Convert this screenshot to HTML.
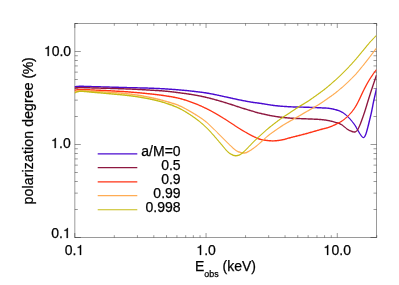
<!DOCTYPE html>
<html><head><meta charset="utf-8"><style>
html,body{margin:0;padding:0;background:#fff}
body{width:399px;height:285px;position:relative;overflow:hidden;font-family:"Liberation Sans",sans-serif;color:#000}
.t{position:absolute;white-space:nowrap;font-size:14px;line-height:1;-webkit-text-stroke:0.25px #000}
.r{text-align:right}
</style></head><body><div id="w" style="position:absolute;left:0;top:0;width:399px;height:285px;will-change:transform">
<svg width="399" height="285" viewBox="0 0 399 285" style="position:absolute;left:0;top:0"><path d="M74.82 23.3V237.7M376.5 23.3V237.7M74.61999999999999 23.5H376.7M74.61999999999999 237.5H376.7" fill="none" stroke="#000" stroke-width="0.4"/><path d="M74.80 237.5v-4.5M74.80 23.5v4.5M74.82 237.50h6.0M376.5 237.50h-6.0M114.31 237.5v-2.3M114.31 23.5v2.3M74.82 209.50h3.0M376.5 209.50h-3.0M137.42 237.5v-2.3M137.42 23.5v2.3M74.82 193.13h3.0M376.5 193.13h-3.0M153.82 237.5v-2.3M153.82 23.5v2.3M74.82 181.51h3.0M376.5 181.51h-3.0M166.54 237.5v-2.3M166.54 23.5v2.3M74.82 172.50h3.0M376.5 172.50h-3.0M176.93 237.5v-2.3M176.93 23.5v2.3M74.82 165.13h3.0M376.5 165.13h-3.0M185.71 237.5v-2.3M185.71 23.5v2.3M74.82 158.91h3.0M376.5 158.91h-3.0M193.33 237.5v-2.3M193.33 23.5v2.3M74.82 153.51h3.0M376.5 153.51h-3.0M200.04 237.5v-2.3M200.04 23.5v2.3M74.82 148.76h3.0M376.5 148.76h-3.0M206.05 237.5v-4.5M206.05 23.5v4.5M74.82 144.50h6.0M376.5 144.50h-6.0M245.55 237.5v-2.3M245.55 23.5v2.3M74.82 116.50h3.0M376.5 116.50h-3.0M268.66 237.5v-2.3M268.66 23.5v2.3M74.82 100.13h3.0M376.5 100.13h-3.0M285.06 237.5v-2.3M285.06 23.5v2.3M74.82 88.51h3.0M376.5 88.51h-3.0M297.78 237.5v-2.3M297.78 23.5v2.3M74.82 79.50h3.0M376.5 79.50h-3.0M308.17 237.5v-2.3M308.17 23.5v2.3M74.82 72.13h3.0M376.5 72.13h-3.0M316.96 237.5v-2.3M316.96 23.5v2.3M74.82 65.91h3.0M376.5 65.91h-3.0M324.57 237.5v-2.3M324.57 23.5v2.3M74.82 60.51h3.0M376.5 60.51h-3.0M331.28 237.5v-2.3M331.28 23.5v2.3M74.82 55.76h3.0M376.5 55.76h-3.0M337.29 237.5v-4.5M337.29 23.5v4.5M74.82 51.50h6.0M376.5 51.50h-6.0M376.80 237.5v-2.3M376.80 23.5v2.3M74.82 23.50h3.0M376.5 23.50h-3.0" stroke="#000" stroke-width="0.4" fill="none"/><clipPath id="c"><rect x="74.5" y="23.5" width="302.0" height="214.0"/></clipPath><g clip-path="url(#c)" fill="none" stroke-linejoin="round"><path d="M74.58 87.52L74.99 87.47L75.46 87.40L76.00 87.32L76.62 87.24L77.36 87.16L78.22 87.10L79.23 87.05L80.41 87.02L80.93 87.02L81.50 87.03L82.10 87.04L82.74 87.05L83.41 87.06L84.11 87.08L84.83 87.10L85.57 87.12L86.33 87.14L87.11 87.17L87.89 87.19L88.69 87.22L89.49 87.25L90.29 87.28L91.09 87.30L91.89 87.33L92.68 87.36L93.46 87.38L94.23 87.40L94.98 87.42L95.68 87.44L96.37 87.46L97.05 87.48L97.72 87.50L98.40 87.52L99.06 87.53L99.73 87.55L100.40 87.57L101.07 87.59L101.74 87.60L102.42 87.62L103.11 87.64L103.81 87.66L104.52 87.68L105.25 87.70L105.99 87.72L106.74 87.74L107.52 87.76L108.32 87.78L109.14 87.80L109.98 87.82L110.61 87.84L111.25 87.86L111.91 87.88L112.58 87.90L113.27 87.92L113.97 87.94L114.68 87.96L115.39 87.98L116.12 88.00L116.85 88.02L117.60 88.04L118.34 88.06L119.09 88.09L119.85 88.11L120.61 88.13L121.37 88.15L122.13 88.17L122.89 88.20L123.65 88.22L124.41 88.24L125.17 88.26L125.92 88.28L126.66 88.30L127.40 88.33L128.14 88.35L128.86 88.37L129.58 88.39L130.28 88.41L130.98 88.42L131.75 88.44L132.52 88.46L133.29 88.48L134.06 88.50L134.82 88.52L135.59 88.54L136.35 88.56L137.11 88.57L137.87 88.59L138.62 88.61L139.37 88.62L140.12 88.64L140.86 88.66L141.60 88.67L142.33 88.69L143.06 88.71L143.78 88.73L144.50 88.74L145.21 88.76L145.91 88.78L146.61 88.80L147.30 88.82L147.98 88.84L148.65 88.86L149.32 88.88L149.97 88.90L150.77 88.93L151.56 88.96L152.32 88.99L153.08 89.02L153.81 89.05L154.54 89.08L155.26 89.11L155.97 89.14L156.66 89.17L157.36 89.20L158.05 89.24L158.73 89.27L159.41 89.30L160.10 89.34L160.78 89.37L161.46 89.41L162.15 89.45L162.84 89.49L163.54 89.53L164.24 89.57L164.96 89.61L165.68 89.66L166.40 89.70L167.12 89.75L167.84 89.79L168.56 89.84L169.29 89.89L170.01 89.94L170.73 89.99L171.46 90.04L172.18 90.09L172.91 90.14L173.64 90.20L174.36 90.25L175.09 90.31L175.81 90.36L176.53 90.42L177.26 90.48L177.98 90.54L178.70 90.60L179.42 90.66L180.14 90.72L180.86 90.78L181.57 90.84L182.29 90.91L183.01 90.97L183.72 91.04L184.44 91.10L185.16 91.17L185.87 91.23L186.58 91.30L187.30 91.37L188.01 91.44L188.72 91.51L189.44 91.58L190.15 91.66L190.86 91.73L191.57 91.81L192.28 91.89L192.99 91.97L193.70 92.05L194.41 92.13L195.11 92.21L195.85 92.30L196.59 92.39L197.32 92.48L198.04 92.57L198.76 92.66L199.48 92.75L200.20 92.84L200.91 92.93L201.63 93.03L202.35 93.12L203.07 93.22L203.79 93.33L204.52 93.43L205.26 93.54L206.00 93.66L206.76 93.77L207.52 93.90L208.29 94.03L209.08 94.16L209.87 94.30L210.55 94.43L211.25 94.56L211.96 94.69L212.68 94.83L213.41 94.98L214.16 95.13L214.91 95.29L215.67 95.45L216.44 95.61L217.20 95.77L217.97 95.94L218.74 96.10L219.51 96.27L220.27 96.44L221.03 96.61L221.78 96.77L222.53 96.94L223.26 97.10L223.98 97.26L224.69 97.41L225.38 97.57L226.06 97.71L226.71 97.86L227.35 97.99L228.17 98.17L228.96 98.34L229.72 98.50L230.46 98.67L231.18 98.82L231.88 98.98L232.57 99.13L233.25 99.28L233.91 99.43L234.57 99.57L235.22 99.72L235.87 99.86L236.52 100.00L237.17 100.14L237.83 100.28L238.49 100.42L239.17 100.56L239.86 100.70L240.61 100.85L241.36 101.00L242.13 101.15L242.91 101.30L243.70 101.45L244.48 101.59L245.27 101.74L246.05 101.89L246.82 102.03L247.58 102.17L248.33 102.30L249.07 102.43L249.78 102.56L250.47 102.68L251.14 102.80L251.78 102.90L252.38 103.01L253.23 103.14L253.96 103.25L254.61 103.34L255.19 103.42L255.74 103.48L256.28 103.55L256.84 103.61L257.45 103.68L258.15 103.77L258.95 103.88L259.90 104.01L260.45 104.09L261.03 104.18L261.65 104.28L262.29 104.38L262.95 104.49L263.64 104.60L264.35 104.72L265.08 104.84L265.82 104.96L266.58 105.08L267.34 105.21L268.12 105.33L268.90 105.45L269.68 105.57L270.46 105.69L271.24 105.81L272.01 105.92L272.78 106.03L273.54 106.13L274.28 106.23L275.02 106.32L275.74 106.40L276.46 106.48L277.18 106.55L277.91 106.63L278.63 106.70L279.35 106.77L280.07 106.83L280.80 106.89L281.52 106.95L282.24 107.01L282.96 107.07L283.68 107.12L284.40 107.17L285.13 107.22L285.85 107.27L286.57 107.32L287.29 107.36L288.01 107.40L288.72 107.44L289.44 107.48L290.16 107.52L290.88 107.56L291.60 107.59L292.32 107.62L293.04 107.65L293.76 107.67L294.48 107.69L295.20 107.71L295.91 107.73L296.63 107.74L297.35 107.76L298.06 107.77L298.78 107.78L299.49 107.79L300.21 107.81L300.92 107.82L301.63 107.83L302.34 107.85L303.05 107.86L303.76 107.88L304.47 107.90L305.18 107.92L305.93 107.95L306.68 107.98L307.45 108.00L308.22 108.03L309.00 108.06L309.78 108.09L310.56 108.12L311.34 108.14L312.11 108.17L312.88 108.21L313.65 108.24L314.41 108.27L315.15 108.30L315.89 108.33L316.61 108.36L317.32 108.39L318.01 108.43L318.68 108.46L319.33 108.49L319.96 108.52L320.83 108.57L321.65 108.60L322.43 108.63L323.18 108.66L323.90 108.68L324.59 108.71L325.26 108.74L325.92 108.78L326.57 108.82L327.22 108.87L327.87 108.93L328.52 109.01L329.19 109.10L329.88 109.21L330.59 109.33L331.32 109.46L332.05 109.61L332.79 109.76L333.54 109.92L334.28 110.10L335.01 110.28L335.74 110.47L336.45 110.67L337.15 110.88L337.83 111.10L338.49 111.33L339.13 111.57L339.73 111.81L340.41 112.11L341.05 112.41L341.66 112.71L342.24 113.03L342.80 113.36L343.35 113.71L343.89 114.08L344.43 114.47L344.97 114.88L345.51 115.32L346.07 115.79L346.64 116.30L347.11 116.72L347.59 117.17L348.07 117.67L348.56 118.18L349.04 118.72L349.53 119.27L350.02 119.83L350.50 120.40L350.97 120.97L351.44 121.54L351.89 122.11L352.33 122.66L352.75 123.21L353.16 123.74L353.53 124.25L354.00 124.92L354.45 125.60L354.86 126.27L355.25 126.94L355.63 127.60L355.99 128.25L356.34 128.89L356.67 129.50L357.01 130.10L357.34 130.68L357.67 131.22L358.08 131.92L358.47 132.57L358.83 133.19L359.18 133.77L359.52 134.32L359.85 134.83L360.20 135.31L360.54 135.75L361.06 136.42L361.59 137.04L362.12 137.59L362.67 138.10L363.44 138.32L364.16 137.99L364.65 137.45L365.19 136.88L365.66 136.15L366.10 135.28L366.33 134.76L366.55 134.20L366.76 133.60L366.97 132.96L367.17 132.28L367.38 131.58L367.58 130.87L367.78 130.14L367.98 129.41L368.17 128.68L368.36 128.01L368.54 127.32L368.73 126.61L368.91 125.89L369.09 125.16L369.27 124.42L369.46 123.68L369.64 122.92L369.82 122.17L370.00 121.42L370.18 120.67L370.35 119.98L370.52 119.31L370.68 118.64L370.84 117.96L371.01 117.29L371.17 116.60L371.34 115.91L371.51 115.20L371.67 114.47L371.85 113.72L372.02 112.95L372.19 112.15L372.34 111.48L372.48 110.77L372.63 110.04L372.79 109.28L372.94 108.51L373.09 107.72L373.25 106.94L373.40 106.15L373.55 105.37L373.70 104.60L373.85 103.85L373.99 103.12L374.13 102.43L374.27 101.77L374.39 101.15L374.58 100.28L374.76 99.47L374.93 98.72L375.09 98.00L375.25 97.32L375.40 96.66L375.55 96.03L375.70 95.40L375.85 94.78L375.99 94.15L376.17 93.36L376.35 92.54L376.52 91.74L376.69 90.96L376.85 90.24L376.99 89.60L377.10 89.06L377.19 88.65L375.81 88.35L375.72 88.76L375.60 89.30L375.46 89.94L375.31 90.66L375.14 91.44L374.96 92.24L374.79 93.05L374.61 93.85L374.47 94.46L374.33 95.08L374.18 95.70L374.03 96.34L373.88 96.99L373.71 97.68L373.55 98.40L373.37 99.17L373.19 99.98L373.01 100.85L372.87 101.48L372.74 102.14L372.60 102.85L372.45 103.57L372.31 104.33L372.16 105.10L372.00 105.88L371.85 106.66L371.70 107.45L371.54 108.23L371.39 109.00L371.24 109.76L371.09 110.48L370.95 111.19L370.81 111.85L370.63 112.65L370.46 113.41L370.30 114.15L370.13 114.88L369.97 115.58L369.80 116.27L369.64 116.95L369.47 117.63L369.31 118.30L369.15 118.97L368.98 119.65L368.82 120.33L368.63 121.09L368.45 121.84L368.27 122.59L368.09 123.34L367.91 124.09L367.73 124.82L367.55 125.55L367.37 126.27L367.19 126.97L367.01 127.65L366.83 128.32L366.63 129.04L366.43 129.77L366.23 130.50L366.03 131.21L365.84 131.89L365.64 132.55L365.45 133.17L365.26 133.74L365.08 134.27L364.90 134.72L364.52 135.55L364.18 136.22L363.88 136.73L363.52 136.91L363.36 136.88L363.22 136.91L362.84 136.77L362.41 136.32L361.96 135.71L361.46 135.05L361.16 134.62L360.87 134.16L360.56 133.67L360.25 133.13L359.91 132.55L359.55 131.94L359.15 131.28L358.73 130.58L358.42 130.05L358.11 129.48L357.79 128.89L357.45 128.28L357.10 127.64L356.72 126.98L356.33 126.31L355.91 125.62L355.46 124.94L354.98 124.24L354.47 123.55L354.07 123.04L353.66 122.51L353.23 121.96L352.77 121.40L352.31 120.83L351.83 120.26L351.34 119.68L350.84 119.11L350.34 118.55L349.83 118.00L349.32 117.46L348.82 116.94L348.32 116.44L347.83 115.96L347.36 115.50L346.79 114.98L346.23 114.48L345.68 114.01L345.13 113.56L344.58 113.13L344.03 112.73L343.46 112.33L342.87 111.96L342.27 111.60L341.63 111.25L340.97 110.92L340.27 110.59L339.63 110.32L338.96 110.05L338.28 109.80L337.57 109.57L336.85 109.34L336.11 109.12L335.36 108.92L334.61 108.73L333.85 108.55L333.09 108.37L332.34 108.21L331.59 108.06L330.85 107.92L330.12 107.79L329.40 107.68L328.70 107.58L328.02 107.50L327.35 107.43L326.68 107.38L326.01 107.33L325.34 107.30L324.65 107.26L323.95 107.24L323.23 107.21L322.49 107.18L321.71 107.15L320.90 107.12L320.04 107.08L319.41 107.04L318.75 107.01L318.08 106.98L317.38 106.95L316.67 106.91L315.95 106.88L315.21 106.85L314.47 106.82L313.71 106.79L312.94 106.76L312.17 106.73L311.39 106.70L310.61 106.67L309.83 106.64L309.05 106.61L308.28 106.58L307.50 106.55L306.73 106.53L305.97 106.50L305.22 106.48L304.51 106.45L303.80 106.43L303.09 106.41L302.37 106.40L301.66 106.38L300.95 106.37L300.23 106.36L299.52 106.34L298.80 106.33L298.09 106.32L297.37 106.31L296.66 106.29L295.95 106.28L295.23 106.26L294.52 106.24L293.80 106.22L293.09 106.20L292.38 106.17L291.66 106.14L290.95 106.11L290.24 106.08L289.52 106.04L288.81 106.00L288.09 105.96L287.37 105.92L286.66 105.87L285.94 105.83L285.22 105.78L284.51 105.73L283.79 105.68L283.07 105.63L282.35 105.57L281.64 105.51L280.92 105.45L280.20 105.39L279.48 105.33L278.77 105.26L278.05 105.19L277.33 105.12L276.62 105.04L275.90 104.97L275.18 104.88L274.46 104.80L273.72 104.71L272.97 104.61L272.21 104.50L271.44 104.39L270.67 104.28L269.89 104.16L269.12 104.04L268.34 103.92L267.57 103.79L266.81 103.67L266.06 103.55L265.31 103.42L264.59 103.31L263.88 103.19L263.19 103.08L262.52 102.97L261.87 102.86L261.25 102.77L260.66 102.67L260.10 102.59L259.15 102.45L258.33 102.34L257.63 102.25L257.01 102.18L256.44 102.12L255.90 102.05L255.36 101.99L254.80 101.92L254.17 101.83L253.45 101.73L252.62 101.59L252.01 101.49L251.38 101.39L250.72 101.27L250.03 101.15L249.31 101.03L248.58 100.90L247.84 100.76L247.08 100.63L246.30 100.48L245.53 100.34L244.75 100.19L243.96 100.05L243.18 99.90L242.41 99.75L241.64 99.60L240.88 99.45L240.14 99.30L239.45 99.17L238.78 99.03L238.12 98.89L237.47 98.75L236.82 98.61L236.17 98.47L235.52 98.33L234.87 98.19L234.22 98.05L233.55 97.90L232.88 97.75L232.19 97.60L231.49 97.44L230.77 97.28L230.02 97.12L229.26 96.95L228.47 96.78L227.65 96.61L227.01 96.47L226.36 96.33L225.68 96.18L224.99 96.03L224.29 95.88L223.57 95.72L222.83 95.55L222.09 95.39L221.34 95.22L220.58 95.06L219.81 94.89L219.04 94.72L218.27 94.55L217.50 94.39L216.73 94.22L215.96 94.06L215.20 93.90L214.45 93.74L213.70 93.59L212.96 93.44L212.23 93.29L211.51 93.16L210.81 93.02L210.13 92.90L209.32 92.75L208.53 92.62L207.75 92.49L206.98 92.36L206.23 92.24L205.48 92.12L204.73 92.01L204.00 91.91L203.27 91.80L202.54 91.70L201.82 91.60L201.10 91.51L200.38 91.41L199.66 91.32L198.94 91.23L198.22 91.14L197.49 91.05L196.76 90.96L196.03 90.88L195.29 90.79L194.57 90.70L193.86 90.62L193.15 90.54L192.44 90.45L191.72 90.38L191.01 90.30L190.30 90.22L189.58 90.15L188.87 90.08L188.15 90.01L187.44 89.93L186.72 89.87L186.01 89.80L185.29 89.73L184.57 89.66L183.85 89.60L183.14 89.53L182.42 89.47L181.70 89.41L180.98 89.34L180.26 89.28L179.54 89.22L178.82 89.16L178.10 89.10L177.37 89.04L176.65 88.98L175.92 88.92L175.20 88.87L174.47 88.81L173.74 88.76L173.02 88.70L172.29 88.65L171.56 88.60L170.84 88.54L170.11 88.49L169.38 88.44L168.66 88.40L167.93 88.35L167.21 88.30L166.49 88.26L165.76 88.21L165.04 88.17L164.33 88.12L163.62 88.08L162.92 88.04L162.23 88.00L161.54 87.97L160.85 87.93L160.17 87.89L159.49 87.86L158.80 87.82L158.12 87.79L157.43 87.76L156.73 87.72L156.03 87.69L155.32 87.66L154.60 87.63L153.87 87.60L153.13 87.57L152.38 87.54L151.61 87.51L150.83 87.48L150.03 87.46L149.37 87.43L148.70 87.41L148.02 87.39L147.34 87.37L146.65 87.35L145.95 87.33L145.24 87.31L144.53 87.29L143.82 87.28L143.09 87.26L142.36 87.24L141.63 87.23L140.89 87.21L140.15 87.19L139.40 87.18L138.65 87.16L137.90 87.14L137.14 87.12L136.38 87.11L135.62 87.09L134.86 87.07L134.09 87.05L133.32 87.03L132.56 87.02L131.79 87.00L131.02 86.98L130.32 86.96L129.62 86.94L128.90 86.92L128.18 86.90L127.44 86.88L126.70 86.86L125.96 86.83L125.21 86.81L124.45 86.79L123.69 86.77L122.93 86.75L122.17 86.73L121.41 86.70L120.65 86.68L119.89 86.66L119.14 86.64L118.38 86.62L117.64 86.59L116.90 86.57L116.16 86.55L115.44 86.53L114.72 86.51L114.01 86.49L113.31 86.47L112.63 86.45L111.95 86.43L111.29 86.41L110.65 86.39L110.02 86.38L109.18 86.35L108.36 86.33L107.56 86.31L106.78 86.29L106.02 86.27L105.28 86.25L104.56 86.23L103.85 86.21L103.15 86.19L102.46 86.17L101.78 86.15L101.10 86.14L100.43 86.12L99.77 86.10L99.10 86.08L98.43 86.07L97.76 86.05L97.09 86.03L96.41 86.01L95.72 85.99L95.02 85.98L94.27 85.95L93.51 85.93L92.73 85.91L91.94 85.88L91.14 85.85L90.34 85.83L89.54 85.80L88.74 85.77L87.94 85.75L87.15 85.72L86.38 85.69L85.62 85.67L84.87 85.65L84.15 85.63L83.45 85.61L82.77 85.60L82.13 85.59L81.51 85.58L80.94 85.57L80.39 85.58L79.18 85.60L78.13 85.65L77.22 85.72L76.45 85.81L75.80 85.90L75.25 85.98L74.80 86.04L74.42 86.08Z" fill="#4a0ad0" stroke="none"/><path d="M74.58 88.82L74.99 88.77L75.46 88.70L76.00 88.62L76.62 88.54L77.36 88.46L78.22 88.40L79.23 88.35L80.41 88.32L80.93 88.32L81.50 88.33L82.10 88.34L82.74 88.35L83.41 88.36L84.11 88.38L84.83 88.40L85.57 88.42L86.33 88.44L87.11 88.47L87.89 88.49L88.69 88.52L89.49 88.55L90.29 88.58L91.09 88.60L91.89 88.63L92.68 88.66L93.46 88.68L94.23 88.70L94.98 88.72L95.68 88.74L96.37 88.76L97.05 88.78L97.73 88.80L98.40 88.81L99.06 88.83L99.73 88.85L100.40 88.86L101.07 88.88L101.74 88.90L102.42 88.91L103.11 88.93L103.81 88.95L104.52 88.97L105.25 88.99L105.99 89.01L106.74 89.03L107.52 89.05L108.31 89.07L109.13 89.10L109.98 89.12L110.61 89.14L111.25 89.16L111.91 89.18L112.58 89.20L113.27 89.22L113.97 89.24L114.67 89.27L115.39 89.29L116.12 89.31L116.85 89.33L117.59 89.35L118.34 89.38L119.09 89.40L119.85 89.42L120.61 89.45L121.37 89.47L122.13 89.50L122.89 89.52L123.65 89.55L124.41 89.57L125.16 89.60L125.91 89.63L126.66 89.65L127.40 89.68L128.13 89.71L128.85 89.74L129.57 89.77L130.27 89.79L130.97 89.82L131.74 89.86L132.51 89.89L133.27 89.93L134.04 89.96L134.80 90.00L135.57 90.04L136.33 90.08L137.09 90.11L137.84 90.15L138.60 90.19L139.35 90.23L140.09 90.27L140.84 90.31L141.57 90.36L142.31 90.40L143.03 90.44L143.76 90.48L144.47 90.52L145.18 90.56L145.89 90.60L146.58 90.64L147.27 90.68L147.96 90.72L148.63 90.76L149.30 90.80L149.96 90.84L150.76 90.89L151.54 90.93L152.31 90.98L153.06 91.02L153.80 91.06L154.53 91.10L155.25 91.15L155.96 91.19L156.66 91.23L157.35 91.27L158.04 91.31L158.72 91.35L159.40 91.40L160.08 91.44L160.76 91.49L161.45 91.54L162.13 91.59L162.82 91.65L163.52 91.70L164.22 91.77L164.93 91.83L165.65 91.90L166.37 91.97L167.09 92.04L167.81 92.11L168.53 92.19L169.25 92.27L169.98 92.35L170.70 92.43L171.43 92.51L172.15 92.60L172.88 92.69L173.60 92.78L174.33 92.87L175.05 92.96L175.77 93.05L176.50 93.14L177.22 93.23L177.94 93.33L178.67 93.42L179.39 93.52L180.11 93.61L180.82 93.71L181.54 93.80L182.26 93.90L182.98 93.99L183.69 94.09L184.41 94.18L185.13 94.28L185.84 94.37L186.55 94.47L187.27 94.57L187.98 94.67L188.69 94.78L189.40 94.88L190.11 94.99L190.82 95.09L191.53 95.21L192.24 95.32L192.95 95.44L193.66 95.55L194.37 95.68L195.07 95.80L195.78 95.93L196.48 96.06L197.17 96.19L197.86 96.32L198.54 96.45L199.23 96.59L199.91 96.72L200.59 96.86L201.27 97.00L201.95 97.15L202.64 97.29L203.33 97.44L204.02 97.59L204.72 97.75L205.42 97.91L206.13 98.08L206.85 98.25L207.58 98.42L208.32 98.60L209.07 98.79L209.83 98.98L210.48 99.15L211.15 99.32L211.83 99.50L212.52 99.68L213.22 99.87L213.94 100.07L214.66 100.27L215.39 100.47L216.12 100.68L216.85 100.88L217.59 101.09L218.33 101.31L219.07 101.52L219.80 101.73L220.53 101.95L221.26 102.16L221.98 102.37L222.69 102.58L223.39 102.79L224.08 102.99L224.75 103.20L225.42 103.40L226.06 103.59L226.69 103.78L227.30 103.96L228.11 104.21L228.90 104.46L229.66 104.70L230.40 104.93L231.12 105.17L231.82 105.40L232.51 105.63L233.18 105.85L233.84 106.08L234.50 106.30L235.15 106.52L235.80 106.74L236.45 106.96L237.10 107.18L237.76 107.40L238.42 107.62L239.10 107.84L239.79 108.06L240.49 108.28L241.21 108.51L241.94 108.73L242.67 108.96L243.41 109.19L244.15 109.41L244.89 109.64L245.63 109.87L246.36 110.09L247.09 110.31L247.80 110.52L248.50 110.74L249.19 110.94L249.86 111.14L250.51 111.33L251.13 111.52L251.73 111.70L252.30 111.87L253.14 112.12L253.86 112.33L254.50 112.53L255.07 112.71L255.62 112.88L256.16 113.04L256.74 113.21L257.36 113.38L258.07 113.56L258.89 113.76L259.84 113.99L260.40 114.12L260.98 114.25L261.60 114.39L262.25 114.54L262.92 114.69L263.61 114.84L264.32 115.00L265.05 115.16L265.79 115.32L266.55 115.49L267.31 115.65L268.09 115.81L268.86 115.97L269.65 116.13L270.43 116.29L271.21 116.44L271.98 116.58L272.75 116.72L273.51 116.86L274.26 116.99L274.99 117.11L275.71 117.22L276.43 117.33L277.16 117.44L277.88 117.54L278.60 117.64L279.33 117.73L280.05 117.82L280.77 117.91L281.49 117.99L282.22 118.08L282.94 118.16L283.66 118.23L284.38 118.31L285.10 118.38L285.83 118.45L286.55 118.51L287.27 118.58L287.99 118.64L288.71 118.70L289.42 118.76L290.14 118.82L290.86 118.88L291.58 118.93L292.30 118.97L293.02 119.02L293.74 119.06L294.46 119.10L295.18 119.13L295.90 119.16L296.62 119.19L297.33 119.22L298.05 119.25L298.76 119.28L299.48 119.30L300.19 119.33L300.91 119.35L301.62 119.38L302.33 119.41L303.04 119.43L303.75 119.46L304.46 119.49L305.17 119.52L305.92 119.56L306.68 119.59L307.45 119.62L308.22 119.65L309.00 119.68L309.78 119.71L310.56 119.74L311.34 119.77L312.11 119.80L312.88 119.83L313.65 119.86L314.40 119.89L315.15 119.93L315.88 119.96L316.60 120.00L317.31 120.04L318.00 120.08L318.67 120.12L319.31 120.17L319.94 120.22L320.80 120.29L321.61 120.37L322.39 120.44L323.13 120.52L323.84 120.60L324.53 120.68L325.20 120.77L325.86 120.86L326.51 120.96L327.16 121.07L327.81 121.18L328.48 121.31L329.15 121.44L329.85 121.59L330.57 121.75L331.31 121.93L332.07 122.12L332.84 122.32L333.62 122.53L334.40 122.75L335.16 122.98L335.91 123.21L336.64 123.43L337.35 123.66L338.02 123.89L338.64 124.11L339.22 124.32L339.74 124.51L340.62 124.89L341.30 125.23L341.86 125.57L342.35 125.92L342.81 126.30L343.30 126.72L343.85 127.16L344.36 127.54L344.86 127.93L345.36 128.34L345.86 128.77L346.37 129.21L346.91 129.64L347.48 130.07L348.09 130.45L348.76 130.82L349.48 131.18L350.25 131.53L351.03 131.87L351.81 132.16L352.56 132.42L353.27 132.61L353.96 132.72L354.85 132.71L355.65 132.48L356.29 132.06L356.83 131.53L357.40 130.96L357.86 130.47L358.28 129.90L358.67 129.26L359.04 128.56L359.40 127.82L359.75 127.06L360.10 126.27L360.36 125.70L360.61 125.11L360.86 124.51L361.11 123.89L361.35 123.25L361.60 122.59L361.85 121.91L362.11 121.20L362.37 120.48L362.64 119.73L362.86 119.14L363.08 118.52L363.30 117.89L363.53 117.25L363.76 116.59L364.00 115.92L364.23 115.24L364.47 114.55L364.71 113.85L364.95 113.15L365.19 112.44L365.42 111.73L365.66 111.01L365.87 110.34L366.09 109.66L366.30 108.97L366.52 108.27L366.74 107.57L366.95 106.86L367.16 106.15L367.38 105.44L367.59 104.72L367.81 104.01L368.02 103.30L368.23 102.60L368.45 101.90L368.66 101.21L368.88 100.52L369.09 99.83L369.30 99.14L369.52 98.46L369.73 97.77L369.95 97.09L370.16 96.41L370.37 95.73L370.59 95.05L370.80 94.38L371.01 93.71L371.23 93.04L371.44 92.37L371.66 91.71L371.89 91.00L372.12 90.29L372.36 89.57L372.59 88.86L372.83 88.15L373.07 87.44L373.30 86.74L373.53 86.04L373.77 85.35L373.99 84.68L374.22 84.01L374.44 83.36L374.65 82.72L374.91 81.96L375.17 81.18L375.44 80.39L375.70 79.60L375.96 78.83L376.21 78.09L376.45 77.40L376.66 76.76L376.85 76.19L377.02 75.71L377.15 75.32L375.85 74.88L375.72 75.27L375.55 75.75L375.36 76.32L375.15 76.96L374.91 77.65L374.66 78.39L374.40 79.16L374.13 79.95L373.87 80.74L373.60 81.52L373.35 82.28L373.13 82.92L372.91 83.57L372.69 84.24L372.46 84.92L372.23 85.60L372.00 86.30L371.76 87.00L371.52 87.71L371.29 88.42L371.05 89.14L370.81 89.86L370.58 90.57L370.34 91.29L370.13 91.95L369.91 92.62L369.70 93.29L369.48 93.96L369.27 94.63L369.06 95.31L368.84 95.99L368.63 96.67L368.41 97.36L368.20 98.04L367.98 98.73L367.77 99.42L367.55 100.11L367.34 100.79L367.12 101.49L366.91 102.19L366.69 102.90L366.48 103.61L366.26 104.32L366.05 105.04L365.84 105.75L365.62 106.46L365.41 107.17L365.19 107.87L364.98 108.56L364.77 109.25L364.56 109.92L364.34 110.59L364.11 111.30L363.88 112.00L363.65 112.71L363.41 113.41L363.17 114.10L362.94 114.79L362.70 115.47L362.47 116.14L362.24 116.79L362.01 117.44L361.79 118.06L361.57 118.67L361.36 119.27L361.09 120.02L360.83 120.74L360.57 121.44L360.33 122.11L360.08 122.77L359.85 123.40L359.61 124.01L359.37 124.60L359.14 125.17L358.90 125.73L358.55 126.51L358.20 127.27L357.87 127.98L357.55 128.65L357.22 129.25L356.91 129.78L356.60 130.24L356.11 130.75L355.63 131.05L355.18 131.21L354.70 131.28L354.04 131.28L353.56 131.22L352.94 131.08L352.25 130.87L351.52 130.61L350.78 130.31L350.04 129.99L349.34 129.66L348.71 129.35L348.14 129.03L347.60 128.69L347.08 128.32L346.57 127.92L346.07 127.50L345.57 127.07L345.07 126.64L344.55 126.24L344.00 125.84L343.53 125.45L343.06 125.05L342.55 124.62L341.94 124.17L341.19 123.72L340.26 123.29L339.71 123.06L339.11 122.83L338.47 122.60L337.78 122.36L337.07 122.12L336.33 121.88L335.56 121.65L334.78 121.42L334.00 121.19L333.21 120.97L332.42 120.76L331.65 120.56L330.89 120.38L330.15 120.21L329.44 120.05L328.75 119.91L328.07 119.78L327.40 119.66L326.74 119.55L326.07 119.44L325.40 119.34L324.71 119.25L324.01 119.17L323.28 119.09L322.53 119.01L321.75 118.93L320.93 118.86L320.06 118.78L319.42 118.73L318.77 118.68L318.09 118.63L317.39 118.59L316.68 118.55L315.96 118.52L315.22 118.48L314.47 118.45L313.71 118.41L312.94 118.38L312.17 118.35L311.39 118.32L310.61 118.29L309.83 118.26L309.05 118.23L308.28 118.20L307.51 118.17L306.74 118.14L305.98 118.11L305.23 118.08L304.52 118.04L303.81 118.01L303.10 117.98L302.38 117.96L301.67 117.93L300.96 117.91L300.24 117.88L299.53 117.85L298.82 117.83L298.10 117.80L297.39 117.77L296.68 117.75L295.96 117.72L295.25 117.68L294.54 117.65L293.82 117.61L293.11 117.57L292.40 117.53L291.68 117.48L290.97 117.43L290.26 117.38L289.54 117.32L288.83 117.26L288.11 117.20L287.39 117.14L286.68 117.08L285.96 117.01L285.24 116.94L284.53 116.87L283.81 116.80L283.09 116.72L282.38 116.64L281.66 116.56L280.94 116.48L280.23 116.39L279.51 116.30L278.79 116.21L278.08 116.11L277.36 116.01L276.64 115.91L275.93 115.80L275.21 115.69L274.49 115.58L273.75 115.45L273.00 115.32L272.24 115.18L271.47 115.04L270.70 114.89L269.92 114.74L269.15 114.58L268.37 114.42L267.60 114.26L266.84 114.10L266.09 113.94L265.35 113.78L264.62 113.62L263.91 113.46L263.22 113.31L262.56 113.16L261.92 113.01L261.30 112.87L260.71 112.74L260.16 112.61L259.22 112.39L258.41 112.20L257.72 112.02L257.11 111.86L256.55 111.71L256.02 111.55L255.48 111.38L254.91 111.21L254.27 111.01L253.54 110.79L252.70 110.53L252.13 110.36L251.53 110.19L250.90 110.00L250.26 109.81L249.59 109.61L248.90 109.41L248.20 109.19L247.49 108.98L246.76 108.76L246.03 108.54L245.29 108.31L244.55 108.09L243.82 107.86L243.08 107.64L242.35 107.41L241.62 107.18L240.91 106.96L240.21 106.74L239.52 106.52L238.85 106.31L238.19 106.09L237.54 105.87L236.89 105.66L236.24 105.44L235.59 105.22L234.94 105.00L234.28 104.77L233.62 104.55L232.94 104.32L232.25 104.09L231.55 103.86L230.83 103.62L230.08 103.38L229.32 103.14L228.52 102.89L227.70 102.64L227.09 102.45L226.46 102.26L225.82 102.07L225.15 101.87L224.48 101.66L223.79 101.46L223.08 101.25L222.37 101.04L221.65 100.82L220.93 100.61L220.19 100.40L219.46 100.18L218.72 99.97L217.98 99.75L217.24 99.54L216.50 99.33L215.76 99.13L215.03 98.92L214.31 98.72L213.59 98.52L212.88 98.33L212.19 98.14L211.50 97.96L210.83 97.79L210.17 97.62L209.41 97.43L208.65 97.24L207.91 97.06L207.18 96.88L206.46 96.71L205.74 96.54L205.03 96.37L204.33 96.21L203.63 96.06L202.94 95.91L202.25 95.76L201.56 95.61L200.87 95.47L200.19 95.33L199.50 95.19L198.82 95.06L198.13 94.92L197.43 94.79L196.74 94.66L196.04 94.53L195.33 94.40L194.61 94.27L193.90 94.15L193.19 94.02L192.47 93.91L191.76 93.79L191.04 93.68L190.33 93.57L189.61 93.46L188.90 93.36L188.18 93.25L187.47 93.15L186.75 93.05L186.04 92.95L185.32 92.85L184.60 92.76L183.88 92.66L183.17 92.57L182.45 92.47L181.73 92.38L181.01 92.28L180.29 92.19L179.57 92.09L178.85 92.00L178.13 91.90L177.41 91.81L176.68 91.72L175.96 91.62L175.23 91.53L174.50 91.44L173.78 91.35L173.05 91.26L172.32 91.17L171.59 91.08L170.87 91.00L170.14 90.92L169.41 90.83L168.69 90.76L167.96 90.68L167.24 90.60L166.51 90.53L165.79 90.46L165.07 90.39L164.35 90.33L163.64 90.26L162.94 90.21L162.25 90.15L161.55 90.10L160.87 90.05L160.18 90.00L159.50 89.95L158.81 89.91L158.13 89.87L157.44 89.82L156.74 89.78L156.04 89.74L155.33 89.70L154.61 89.66L153.88 89.62L153.14 89.58L152.39 89.53L151.63 89.49L150.84 89.44L150.04 89.40L149.38 89.36L148.72 89.32L148.04 89.28L147.36 89.24L146.67 89.20L145.97 89.16L145.27 89.12L144.56 89.08L143.84 89.03L143.12 88.99L142.39 88.95L141.65 88.91L140.91 88.87L140.17 88.83L139.42 88.79L138.67 88.75L137.92 88.71L137.16 88.67L136.40 88.63L135.64 88.59L134.87 88.55L134.11 88.52L133.34 88.48L132.57 88.44L131.80 88.41L131.03 88.38L130.33 88.35L129.63 88.32L128.91 88.29L128.18 88.26L127.45 88.23L126.71 88.21L125.96 88.18L125.21 88.15L124.46 88.13L123.70 88.10L122.94 88.07L122.18 88.05L121.41 88.02L120.65 88.00L119.89 87.97L119.14 87.95L118.39 87.93L117.64 87.90L116.90 87.88L116.16 87.86L115.44 87.84L114.72 87.82L114.01 87.80L113.31 87.77L112.63 87.75L111.95 87.73L111.30 87.71L110.65 87.69L110.02 87.68L109.18 87.65L108.36 87.63L107.56 87.60L106.78 87.58L106.03 87.56L105.28 87.54L104.56 87.52L103.85 87.50L103.15 87.48L102.46 87.47L101.78 87.45L101.10 87.43L100.43 87.41L99.77 87.40L99.10 87.38L98.43 87.36L97.76 87.35L97.09 87.33L96.41 87.31L95.72 87.29L95.02 87.28L94.27 87.25L93.51 87.23L92.73 87.21L91.94 87.18L91.14 87.15L90.34 87.13L89.54 87.10L88.74 87.07L87.94 87.05L87.15 87.02L86.38 86.99L85.62 86.97L84.87 86.95L84.15 86.93L83.45 86.91L82.77 86.90L82.13 86.89L81.51 86.88L80.94 86.87L80.39 86.88L79.18 86.90L78.13 86.95L77.22 87.02L76.45 87.11L75.80 87.20L75.25 87.28L74.80 87.34L74.42 87.38Z" fill="#8e1840" stroke="none"/><path d="M74.62 91.00L75.03 90.93L75.51 90.83L76.04 90.71L76.66 90.59L77.39 90.48L78.24 90.38L79.24 90.31L80.42 90.27L80.93 90.27L81.50 90.28L82.10 90.29L82.74 90.30L83.41 90.32L84.10 90.34L84.82 90.36L85.57 90.39L86.32 90.42L87.10 90.46L87.89 90.49L88.68 90.53L89.48 90.57L90.28 90.61L91.08 90.64L91.88 90.68L92.67 90.72L93.45 90.76L94.22 90.79L94.97 90.82L95.67 90.85L96.36 90.88L97.04 90.91L97.71 90.94L98.38 90.97L99.05 91.00L99.72 91.02L100.38 91.05L101.05 91.08L101.73 91.11L102.41 91.14L103.10 91.17L103.80 91.21L104.51 91.24L105.23 91.28L105.97 91.31L106.73 91.35L107.50 91.39L108.30 91.43L109.12 91.48L109.96 91.52L110.59 91.56L111.23 91.59L111.89 91.63L112.57 91.67L113.25 91.71L113.95 91.74L114.66 91.78L115.37 91.82L116.10 91.87L116.83 91.91L117.57 91.95L118.32 91.99L119.07 92.04L119.83 92.08L120.59 92.13L121.35 92.17L122.11 92.22L122.87 92.27L123.63 92.31L124.38 92.36L125.14 92.41L125.89 92.46L126.63 92.51L127.37 92.56L128.11 92.61L128.83 92.66L129.55 92.72L130.25 92.77L130.94 92.82L131.71 92.88L132.48 92.94L133.25 93.00L134.01 93.07L134.78 93.13L135.54 93.20L136.30 93.27L137.06 93.33L137.82 93.40L138.57 93.47L139.32 93.54L140.06 93.61L140.81 93.68L141.54 93.76L142.28 93.83L143.00 93.90L143.73 93.97L144.44 94.04L145.15 94.12L145.86 94.19L146.55 94.26L147.24 94.33L147.92 94.40L148.60 94.48L149.27 94.55L149.92 94.62L150.72 94.70L151.51 94.79L152.27 94.87L153.03 94.95L153.76 95.03L154.49 95.11L155.21 95.19L155.92 95.27L156.61 95.35L157.31 95.43L158.00 95.52L158.68 95.60L159.36 95.68L160.04 95.77L160.72 95.86L161.40 95.95L162.09 96.05L162.78 96.14L163.48 96.24L164.18 96.35L164.89 96.46L165.61 96.57L166.33 96.68L167.05 96.79L167.77 96.91L168.50 97.02L169.22 97.14L169.94 97.25L170.67 97.37L171.39 97.49L172.11 97.62L172.84 97.75L173.56 97.88L174.28 98.01L175.00 98.15L175.72 98.30L176.44 98.44L177.16 98.60L177.88 98.76L178.60 98.93L179.31 99.10L180.02 99.28L180.71 99.46L181.39 99.64L182.07 99.83L182.75 100.02L183.43 100.22L184.11 100.42L184.79 100.63L185.47 100.84L186.15 101.06L186.83 101.28L187.51 101.50L188.18 101.73L188.86 101.97L189.54 102.20L190.22 102.44L190.90 102.69L191.57 102.94L192.25 103.19L192.92 103.44L193.60 103.70L194.28 103.96L194.95 104.23L195.63 104.49L196.31 104.77L196.98 105.05L197.67 105.33L198.35 105.62L199.03 105.91L199.72 106.21L200.40 106.51L201.08 106.82L201.76 107.12L202.44 107.43L203.12 107.75L203.80 108.06L204.47 108.38L205.14 108.70L205.81 109.02L206.47 109.35L207.13 109.67L207.78 110.00L208.43 110.32L209.07 110.65L209.70 110.97L210.37 111.32L211.03 111.67L211.70 112.03L212.38 112.39L213.05 112.77L213.72 113.14L214.39 113.52L215.05 113.90L215.71 114.29L216.36 114.67L217.01 115.05L217.65 115.43L218.27 115.81L218.89 116.18L219.49 116.54L220.08 116.90L220.66 117.25L221.22 117.58L221.76 117.91L222.28 118.23L222.78 118.53L223.60 119.03L224.35 119.48L225.04 119.91L225.68 120.32L226.29 120.70L226.86 121.07L227.42 121.43L227.97 121.79L228.52 122.16L229.08 122.53L229.66 122.91L230.27 123.31L230.85 123.69L231.43 124.07L232.01 124.45L232.60 124.84L233.19 125.23L233.77 125.62L234.36 126.02L234.95 126.41L235.53 126.80L236.12 127.18L236.70 127.57L237.29 127.95L237.87 128.32L238.50 128.72L239.13 129.11L239.76 129.50L240.38 129.88L241.01 130.26L241.63 130.64L242.25 131.01L242.88 131.39L243.50 131.75L244.13 132.12L244.76 132.49L245.39 132.85L246.02 133.21L246.67 133.57L247.32 133.94L247.98 134.31L248.64 134.67L249.29 135.03L249.94 135.38L250.58 135.73L251.21 136.06L251.83 136.38L252.43 136.69L253.01 136.98L253.75 137.35L254.46 137.69L255.15 138.02L255.82 138.34L256.48 138.63L257.13 138.91L257.78 139.18L258.43 139.42L259.09 139.66L259.81 139.89L260.50 140.09L261.17 140.26L261.84 140.41L262.54 140.55L263.27 140.68L264.05 140.79L264.90 140.91L265.52 140.99L266.17 141.08L266.85 141.17L267.55 141.25L268.28 141.33L269.02 141.41L269.78 141.48L270.55 141.54L271.32 141.59L272.09 141.62L272.86 141.63L273.61 141.62L274.31 141.60L275.02 141.56L275.74 141.51L276.45 141.45L277.18 141.37L277.90 141.28L278.61 141.19L279.33 141.09L280.03 140.98L280.73 140.86L281.41 140.75L282.08 140.62L282.74 140.50L283.47 140.35L284.13 140.19L284.76 140.02L285.35 139.85L285.93 139.67L286.53 139.49L287.15 139.29L287.83 139.09L288.58 138.87L289.42 138.63L290.38 138.38L290.93 138.24L291.51 138.09L292.13 137.93L292.77 137.77L293.43 137.60L294.12 137.43L294.83 137.26L295.55 137.08L296.29 136.89L297.04 136.71L297.80 136.52L298.57 136.33L299.34 136.14L300.11 135.94L300.89 135.75L301.66 135.55L302.42 135.35L303.18 135.16L303.93 134.96L304.66 134.77L305.38 134.58L306.10 134.38L306.82 134.18L307.55 133.98L308.29 133.78L309.03 133.57L309.77 133.36L310.52 133.15L311.26 132.94L312.00 132.72L312.74 132.51L313.47 132.30L314.20 132.09L314.91 131.88L315.62 131.68L316.32 131.48L317.01 131.28L317.68 131.09L318.33 130.90L318.97 130.72L319.59 130.54L320.19 130.37L321.05 130.14L321.86 129.92L322.63 129.72L323.38 129.54L324.10 129.36L324.79 129.18L325.47 129.01L326.14 128.84L326.81 128.66L327.48 128.47L328.15 128.26L328.83 128.04L329.52 127.80L330.24 127.54L330.92 127.27L331.62 126.98L332.33 126.69L333.05 126.37L333.77 126.05L334.49 125.72L335.20 125.39L335.91 125.05L336.60 124.70L337.28 124.36L337.94 124.03L338.58 123.70L339.19 123.37L339.77 123.06L340.31 122.75L341.05 122.32L341.73 121.91L342.34 121.51L342.90 121.12L343.42 120.73L343.92 120.34L344.41 119.93L344.91 119.52L345.42 119.08L345.96 118.62L346.47 118.16L347.00 117.68L347.52 117.19L348.05 116.68L348.58 116.16L349.10 115.63L349.63 115.10L350.15 114.57L350.65 114.03L351.14 113.49L351.62 112.96L352.08 112.42L352.53 111.88L352.96 111.34L353.39 110.80L353.80 110.25L354.21 109.69L354.60 109.13L354.99 108.56L355.37 107.99L355.75 107.41L356.12 106.82L356.49 106.23L356.84 105.64L357.18 105.05L357.51 104.45L357.84 103.85L358.16 103.24L358.47 102.62L358.79 101.99L359.11 101.34L359.44 100.67L359.78 99.99L360.08 99.39L360.38 98.76L360.68 98.13L360.99 97.48L361.29 96.82L361.60 96.15L361.91 95.48L362.22 94.80L362.53 94.13L362.84 93.45L363.15 92.79L363.47 92.13L363.78 91.49L364.10 90.85L364.42 90.21L364.74 89.57L365.06 88.93L365.38 88.30L365.71 87.66L366.03 87.03L366.36 86.40L366.69 85.78L367.03 85.16L367.36 84.54L367.70 83.92L368.05 83.31L368.40 82.70L368.75 82.09L369.12 81.47L369.49 80.85L369.86 80.23L370.24 79.62L370.62 79.02L370.99 78.42L371.36 77.84L371.73 77.26L372.10 76.70L372.45 76.16L372.80 75.64L373.25 74.96L373.73 74.28L374.21 73.61L374.69 72.95L375.16 72.32L375.61 71.72L376.03 71.18L376.40 70.69L376.71 70.28L376.96 69.95L376.04 69.25L375.79 69.58L375.48 69.99L375.11 70.48L374.69 71.02L374.24 71.62L373.76 72.26L373.26 72.92L372.77 73.60L372.27 74.28L371.80 74.96L371.45 75.49L371.08 76.04L370.71 76.60L370.34 77.18L369.96 77.76L369.58 78.36L369.19 78.97L368.81 79.59L368.43 80.21L368.05 80.83L367.68 81.45L367.31 82.07L366.95 82.69L366.60 83.30L366.25 83.92L365.91 84.55L365.57 85.17L365.23 85.80L364.90 86.44L364.56 87.07L364.23 87.71L363.91 88.35L363.58 88.99L363.26 89.63L362.94 90.27L362.62 90.91L362.29 91.56L361.97 92.23L361.65 92.90L361.34 93.57L361.02 94.25L360.71 94.93L360.40 95.60L360.10 96.27L359.79 96.92L359.50 97.57L359.20 98.20L358.91 98.82L358.62 99.41L358.28 100.10L357.95 100.76L357.63 101.41L357.32 102.04L357.01 102.65L356.70 103.25L356.39 103.85L356.07 104.43L355.75 105.02L355.42 105.60L355.08 106.18L354.72 106.75L354.36 107.33L353.99 107.89L353.62 108.45L353.24 109.01L352.85 109.56L352.46 110.10L352.05 110.64L351.64 111.18L351.22 111.71L350.78 112.24L350.33 112.77L349.86 113.31L349.37 113.84L348.88 114.38L348.37 114.91L347.85 115.42L347.32 115.93L346.80 116.41L346.27 116.89L345.75 117.35L345.24 117.78L344.70 118.24L344.19 118.66L343.70 119.06L343.22 119.43L342.73 119.79L342.22 120.14L341.67 120.49L341.08 120.86L340.42 121.24L339.69 121.65L339.16 121.94L338.59 122.24L337.98 122.56L337.35 122.88L336.70 123.21L336.03 123.54L335.34 123.87L334.64 124.20L333.94 124.52L333.23 124.84L332.52 125.16L331.81 125.46L331.11 125.74L330.43 126.01L329.76 126.26L329.07 126.51L328.40 126.73L327.74 126.94L327.09 127.13L326.44 127.31L325.79 127.48L325.13 127.65L324.45 127.82L323.76 127.99L323.04 128.17L322.29 128.36L321.50 128.56L320.68 128.79L319.81 129.03L319.21 129.20L318.59 129.38L317.95 129.56L317.29 129.75L316.62 129.94L315.93 130.14L315.24 130.34L314.53 130.55L313.81 130.75L313.08 130.96L312.35 131.17L311.62 131.38L310.88 131.60L310.14 131.81L309.39 132.02L308.65 132.23L307.91 132.43L307.18 132.64L306.45 132.84L305.73 133.03L305.02 133.22L304.30 133.41L303.57 133.61L302.83 133.80L302.07 133.99L301.31 134.19L300.54 134.38L299.77 134.58L299.00 134.77L298.23 134.96L297.46 135.15L296.70 135.34L295.95 135.53L295.21 135.71L294.49 135.89L293.78 136.07L293.09 136.24L292.43 136.41L291.78 136.57L291.17 136.73L290.58 136.88L290.02 137.02L289.05 137.28L288.19 137.53L287.43 137.76L286.75 137.97L286.12 138.16L285.53 138.35L284.96 138.51L284.39 138.67L283.80 138.82L283.16 138.96L282.46 139.10L281.82 139.22L281.16 139.34L280.49 139.45L279.81 139.56L279.12 139.67L278.42 139.77L277.72 139.86L277.02 139.94L276.32 140.01L275.62 140.07L274.93 140.12L274.25 140.15L273.59 140.18L272.86 140.18L272.13 140.17L271.39 140.14L270.64 140.10L269.90 140.04L269.16 139.98L268.43 139.90L267.72 139.82L267.03 139.74L266.35 139.65L265.71 139.57L265.10 139.49L264.25 139.37L263.49 139.26L262.79 139.15L262.13 139.02L261.49 138.89L260.86 138.73L260.21 138.55L259.51 138.34L258.88 138.14L258.26 137.91L257.64 137.67L257.01 137.41L256.37 137.13L255.71 136.83L255.03 136.52L254.32 136.18L253.59 135.82L253.01 135.53L252.42 135.23L251.81 134.92L251.18 134.59L250.54 134.26L249.90 133.91L249.25 133.56L248.59 133.20L247.94 132.84L247.29 132.47L246.65 132.11L246.01 131.75L245.39 131.40L244.76 131.04L244.14 130.67L243.51 130.31L242.89 129.94L242.27 129.57L241.65 129.20L241.03 128.82L240.40 128.44L239.78 128.06L239.15 127.67L238.53 127.28L237.95 126.92L237.37 126.55L236.78 126.17L236.20 125.79L235.61 125.40L235.03 125.01L234.44 124.62L233.86 124.23L233.27 123.84L232.68 123.45L232.10 123.06L231.51 122.67L230.93 122.29L230.32 121.89L229.74 121.51L229.18 121.15L228.63 120.78L228.08 120.42L227.53 120.05L226.95 119.68L226.34 119.28L225.69 118.87L225.00 118.44L224.24 117.97L223.42 117.47L222.92 117.17L222.40 116.85L221.86 116.52L221.30 116.19L220.73 115.84L220.14 115.48L219.53 115.11L218.91 114.74L218.29 114.36L217.65 113.98L217.00 113.60L216.34 113.21L215.68 112.82L215.01 112.43L214.34 112.05L213.67 111.66L212.99 111.28L212.31 110.91L211.64 110.54L210.97 110.18L210.30 109.83L209.66 109.50L209.01 109.17L208.36 108.84L207.70 108.51L207.04 108.18L206.38 107.85L205.71 107.53L205.03 107.20L204.36 106.88L203.68 106.56L202.99 106.24L202.31 105.92L201.62 105.61L200.94 105.30L200.25 105.00L199.56 104.69L198.87 104.39L198.19 104.10L197.50 103.81L196.81 103.53L196.13 103.25L195.45 102.97L194.77 102.70L194.09 102.44L193.41 102.18L192.73 101.92L192.04 101.66L191.36 101.41L190.68 101.16L190.00 100.91L189.31 100.67L188.63 100.44L187.94 100.20L187.26 99.97L186.57 99.75L185.89 99.53L185.20 99.31L184.51 99.10L183.82 98.89L183.14 98.68L182.45 98.49L181.76 98.29L181.07 98.10L180.38 97.92L179.65 97.73L178.92 97.55L178.20 97.38L177.47 97.22L176.74 97.06L176.01 96.90L175.28 96.76L174.55 96.61L173.82 96.47L173.09 96.34L172.36 96.21L171.63 96.08L170.90 95.96L170.17 95.84L169.45 95.72L168.72 95.61L168.00 95.49L167.27 95.38L166.55 95.27L165.83 95.15L165.11 95.04L164.39 94.93L163.68 94.83L162.98 94.72L162.29 94.62L161.60 94.53L160.91 94.43L160.23 94.34L159.54 94.26L158.86 94.17L158.17 94.09L157.48 94.00L156.78 93.92L156.08 93.84L155.37 93.76L154.65 93.68L153.92 93.60L153.18 93.52L152.43 93.44L151.66 93.35L150.88 93.27L150.08 93.18L149.42 93.11L148.75 93.04L148.08 92.97L147.39 92.90L146.70 92.83L146.00 92.75L145.30 92.68L144.59 92.61L143.87 92.54L143.15 92.46L142.42 92.39L141.68 92.32L140.94 92.25L140.20 92.18L139.45 92.11L138.70 92.03L137.95 91.97L137.19 91.90L136.43 91.83L135.67 91.76L134.90 91.69L134.13 91.63L133.37 91.56L132.60 91.50L131.83 91.44L131.06 91.38L130.36 91.33L129.65 91.27L128.93 91.22L128.21 91.17L127.47 91.12L126.73 91.07L125.99 91.02L125.23 90.97L124.48 90.92L123.72 90.87L122.96 90.82L122.20 90.77L121.43 90.73L120.67 90.68L119.91 90.64L119.16 90.59L118.41 90.55L117.66 90.50L116.92 90.46L116.18 90.42L115.46 90.38L114.74 90.34L114.03 90.30L113.33 90.26L112.65 90.22L111.97 90.18L111.31 90.15L110.67 90.11L110.04 90.08L109.20 90.03L108.37 89.99L107.58 89.94L106.80 89.90L106.04 89.87L105.30 89.83L104.58 89.79L103.86 89.76L103.16 89.73L102.47 89.70L101.79 89.66L101.12 89.63L100.45 89.61L99.78 89.58L99.11 89.55L98.44 89.52L97.77 89.49L97.10 89.46L96.42 89.43L95.73 89.41L95.03 89.38L94.28 89.34L93.52 89.31L92.74 89.27L91.95 89.24L91.15 89.20L90.35 89.16L89.55 89.12L88.75 89.08L87.95 89.05L87.16 89.01L86.39 88.98L85.62 88.95L84.88 88.92L84.15 88.89L83.45 88.87L82.77 88.85L82.13 88.84L81.51 88.83L80.93 88.82L80.38 88.83L79.17 88.86L78.11 88.95L77.19 89.06L76.41 89.19L75.75 89.32L75.21 89.44L74.76 89.53L74.38 89.60Z" fill="#ff3214" stroke="none"/><path d="M74.66 92.49L75.03 92.39L75.45 92.26L75.91 92.11L76.43 91.96L77.02 91.81L77.70 91.68L78.48 91.56L79.38 91.47L80.42 91.42L80.94 91.42L81.50 91.42L82.10 91.43L82.74 91.45L83.40 91.47L84.10 91.50L84.82 91.53L85.56 91.56L86.32 91.60L87.09 91.65L87.88 91.69L88.67 91.74L89.47 91.79L90.27 91.84L91.07 91.89L91.87 91.94L92.66 91.99L93.44 92.04L94.21 92.08L94.96 92.12L95.66 92.16L96.35 92.20L97.03 92.23L97.71 92.27L98.38 92.30L99.04 92.34L99.71 92.37L100.38 92.41L101.05 92.44L101.72 92.48L102.40 92.52L103.09 92.56L103.79 92.60L104.50 92.64L105.22 92.69L105.96 92.73L106.71 92.78L107.49 92.84L108.28 92.90L109.10 92.96L109.94 93.02L110.57 93.07L111.22 93.12L111.88 93.17L112.55 93.22L113.24 93.27L113.93 93.33L114.64 93.38L115.36 93.44L116.08 93.49L116.82 93.55L117.56 93.61L118.30 93.67L119.06 93.73L119.81 93.79L120.57 93.86L121.33 93.92L122.09 93.99L122.85 94.06L123.61 94.13L124.36 94.20L125.12 94.27L125.86 94.35L126.61 94.42L127.35 94.50L128.08 94.58L128.80 94.66L129.51 94.74L130.22 94.83L130.91 94.91L131.68 95.01L132.44 95.11L133.21 95.22L133.97 95.33L134.73 95.44L135.50 95.55L136.26 95.66L137.01 95.78L137.77 95.90L138.52 96.02L139.27 96.14L140.01 96.27L140.75 96.39L141.49 96.52L142.22 96.65L142.95 96.78L143.67 96.91L144.38 97.04L145.09 97.17L145.80 97.30L146.49 97.44L147.18 97.57L147.86 97.70L148.54 97.83L149.20 97.97L149.86 98.10L150.66 98.26L151.44 98.42L152.20 98.58L152.95 98.74L153.69 98.90L154.42 99.06L155.13 99.22L155.84 99.38L156.54 99.55L157.23 99.71L157.91 99.88L158.60 100.05L159.28 100.22L159.96 100.39L160.64 100.57L161.32 100.75L162.01 100.94L162.70 101.12L163.39 101.32L164.09 101.52L164.81 101.72L165.49 101.92L166.18 102.11L166.87 102.31L167.56 102.51L168.25 102.71L168.94 102.91L169.63 103.11L170.32 103.31L171.01 103.52L171.70 103.73L172.39 103.94L173.08 104.16L173.77 104.39L174.46 104.62L175.15 104.85L175.83 105.09L176.52 105.34L177.20 105.60L177.89 105.86L178.57 106.13L179.25 106.42L179.93 106.71L180.59 107.00L181.25 107.30L181.92 107.62L182.60 107.95L183.28 108.29L183.96 108.65L184.65 109.01L185.33 109.37L186.02 109.75L186.70 110.13L187.39 110.51L188.06 110.89L188.74 111.28L189.40 111.66L190.06 112.05L190.71 112.43L191.34 112.81L191.97 113.18L192.58 113.55L193.18 113.91L193.76 114.26L194.33 114.60L194.88 114.93L195.64 115.39L196.37 115.83L197.07 116.26L197.74 116.68L198.39 117.09L199.03 117.50L199.64 117.90L200.23 118.29L200.81 118.68L201.38 119.07L201.94 119.46L202.49 119.85L203.03 120.24L203.57 120.64L204.11 121.04L204.65 121.45L205.25 121.92L205.84 122.38L206.40 122.85L206.95 123.32L207.48 123.79L208.01 124.26L208.53 124.73L209.04 125.21L209.55 125.69L210.05 126.18L210.57 126.67L211.08 127.17L211.60 127.67L212.14 128.18L212.64 128.66L213.15 129.14L213.65 129.63L214.16 130.12L214.67 130.61L215.18 131.11L215.68 131.61L216.19 132.12L216.70 132.62L217.21 133.13L217.71 133.64L218.22 134.14L218.73 134.65L219.23 135.16L219.74 135.66L220.24 136.17L220.74 136.68L221.23 137.19L221.73 137.70L222.23 138.21L222.73 138.72L223.23 139.24L223.73 139.75L224.23 140.26L224.73 140.77L225.23 141.28L225.73 141.78L226.23 142.28L226.73 142.78L227.24 143.27L227.78 143.80L228.35 144.35L228.92 144.90L229.49 145.46L230.07 146.02L230.65 146.57L231.23 147.12L231.79 147.65L232.35 148.17L232.89 148.66L233.42 149.13L233.92 149.58L234.40 149.98L234.85 150.36L235.67 150.98L236.42 151.48L237.09 151.87L237.72 152.18L238.32 152.43L238.89 152.63L239.47 152.84L240.16 153.09L240.83 153.31L241.50 153.49L242.16 153.62L242.83 153.70L243.49 153.72L244.12 153.72L244.72 153.68L245.34 153.59L245.99 153.42L246.69 153.15L247.47 152.80L248.01 152.52L248.58 152.20L249.17 151.85L249.79 151.47L250.43 151.07L251.08 150.65L251.74 150.21L252.39 149.77L253.02 149.32L253.64 148.88L254.19 148.48L254.71 148.09L255.23 147.69L255.75 147.29L256.26 146.88L256.78 146.45L257.32 146.01L257.86 145.55L258.43 145.07L259.03 144.56L259.66 144.02L260.14 143.59L260.65 143.13L261.17 142.65L261.71 142.16L262.25 141.65L262.81 141.13L263.38 140.60L263.95 140.07L264.52 139.55L265.09 139.02L265.66 138.51L266.22 138.01L266.78 137.53L267.32 137.07L267.86 136.63L268.46 136.15L269.06 135.68L269.65 135.23L270.23 134.79L270.82 134.36L271.40 133.94L271.98 133.53L272.55 133.12L273.13 132.71L273.71 132.31L274.28 131.90L274.86 131.49L275.44 131.08L276.02 130.67L276.60 130.27L277.18 129.86L277.75 129.46L278.33 129.07L278.90 128.67L279.47 128.28L280.05 127.89L280.62 127.51L281.20 127.13L281.77 126.75L282.35 126.38L282.93 126.02L283.56 125.62L284.19 125.24L284.82 124.86L285.45 124.48L286.08 124.10L286.72 123.73L287.35 123.37L287.98 123.00L288.62 122.63L289.25 122.27L289.88 121.91L290.51 121.55L291.14 121.19L291.77 120.84L292.39 120.49L293.02 120.14L293.64 119.79L294.26 119.45L294.89 119.10L295.51 118.76L296.14 118.41L296.76 118.06L297.39 117.70L298.01 117.35L298.64 116.98L299.26 116.62L299.89 116.25L300.51 115.88L301.14 115.51L301.76 115.14L302.39 114.77L303.01 114.40L303.63 114.04L304.26 113.67L304.89 113.31L305.51 112.94L306.14 112.58L306.78 112.23L307.41 111.87L308.05 111.51L308.69 111.15L309.33 110.80L309.97 110.44L310.60 110.08L311.24 109.72L311.87 109.36L312.49 109.00L313.11 108.64L313.73 108.28L314.36 107.92L314.98 107.55L315.61 107.19L316.23 106.82L316.85 106.46L317.46 106.09L318.06 105.73L318.65 105.37L319.23 105.01L319.79 104.66L320.33 104.31L321.01 103.87L321.63 103.45L322.22 103.04L322.79 102.65L323.35 102.25L323.92 101.84L324.51 101.42L325.15 100.97L325.84 100.49L326.35 100.14L326.89 99.77L327.45 99.39L328.02 99.00L328.61 98.60L329.21 98.19L329.82 97.77L330.43 97.35L331.04 96.92L331.65 96.48L332.26 96.05L332.86 95.61L333.45 95.17L334.03 94.72L334.61 94.28L335.19 93.83L335.76 93.38L336.34 92.93L336.92 92.47L337.49 92.00L338.07 91.53L338.64 91.06L339.22 90.58L339.80 90.10L340.38 89.61L340.96 89.12L341.50 88.66L342.04 88.19L342.58 87.73L343.13 87.25L343.67 86.77L344.22 86.29L344.76 85.80L345.31 85.31L345.85 84.82L346.39 84.32L346.94 83.82L347.48 83.31L348.02 82.80L348.56 82.28L349.07 81.80L349.57 81.31L350.07 80.83L350.57 80.34L351.07 79.85L351.57 79.35L352.07 78.85L352.57 78.35L353.08 77.84L353.58 77.33L354.08 76.81L354.59 76.28L355.09 75.75L355.59 75.21L356.10 74.66L356.58 74.13L357.07 73.57L357.57 73.00L358.08 72.41L358.58 71.82L359.09 71.21L359.60 70.61L360.10 70.00L360.59 69.40L361.07 68.81L361.54 68.23L362.00 67.66L362.44 67.12L362.86 66.60L363.26 66.11L363.63 65.66L364.25 64.91L364.80 64.23L365.30 63.61L365.77 63.04L366.20 62.51L366.60 62.00L366.99 61.52L367.37 61.04L367.75 60.55L368.19 59.99L368.55 59.53L368.87 59.11L369.18 58.69L369.54 58.21L369.98 57.61L370.56 56.85L370.89 56.41L371.28 55.90L371.71 55.34L372.17 54.73L372.66 54.09L373.17 53.42L373.68 52.75L374.19 52.08L374.69 51.43L375.17 50.80L375.62 50.21L376.03 49.67L376.40 49.19L376.71 48.78L376.96 48.45L376.04 47.75L375.79 48.08L375.48 48.49L375.11 48.97L374.70 49.51L374.25 50.10L373.77 50.73L373.27 51.39L372.76 52.05L372.25 52.73L371.74 53.39L371.26 54.03L370.79 54.64L370.36 55.20L369.98 55.71L369.64 56.15L369.06 56.91L368.61 57.51L368.25 57.99L367.94 58.42L367.63 58.83L367.28 59.29L366.85 59.85L366.47 60.33L366.10 60.81L365.71 61.30L365.31 61.80L364.89 62.33L364.43 62.90L363.93 63.52L363.38 64.20L362.77 64.94L362.39 65.40L361.99 65.89L361.57 66.41L361.13 66.95L360.67 67.52L360.20 68.10L359.72 68.69L359.23 69.29L358.73 69.89L358.23 70.50L357.73 71.10L357.23 71.70L356.74 72.29L356.25 72.86L355.77 73.41L355.30 73.94L354.81 74.49L354.31 75.03L353.82 75.56L353.32 76.09L352.83 76.60L352.33 77.12L351.84 77.62L351.34 78.13L350.84 78.62L350.34 79.11L349.84 79.60L349.34 80.08L348.84 80.56L348.34 81.04L347.84 81.52L347.30 82.03L346.76 82.53L346.21 83.03L345.67 83.53L345.13 84.02L344.58 84.51L344.04 85.00L343.50 85.48L342.95 85.95L342.41 86.43L341.87 86.90L341.32 87.36L340.78 87.82L340.24 88.28L339.66 88.77L339.09 89.25L338.51 89.72L337.93 90.19L337.36 90.66L336.78 91.12L336.21 91.58L335.63 92.03L335.06 92.48L334.48 92.93L333.91 93.37L333.33 93.80L332.75 94.23L332.17 94.66L331.57 95.09L330.97 95.52L330.36 95.95L329.75 96.37L329.14 96.79L328.54 97.20L327.94 97.61L327.35 98.01L326.78 98.40L326.22 98.78L325.68 99.15L325.16 99.51L324.46 100.00L323.83 100.45L323.23 100.88L322.66 101.28L322.11 101.67L321.54 102.06L320.96 102.45L320.34 102.86L319.67 103.29L319.13 103.62L318.58 103.96L318.01 104.31L317.42 104.66L316.82 105.02L316.21 105.38L315.60 105.74L314.98 106.11L314.35 106.47L313.73 106.84L313.10 107.20L312.49 107.56L311.87 107.91L311.24 108.27L310.62 108.62L309.98 108.98L309.35 109.33L308.71 109.69L308.07 110.05L307.43 110.41L306.79 110.77L306.15 111.13L305.52 111.49L304.89 111.86L304.26 112.22L303.63 112.59L303.00 112.96L302.38 113.33L301.75 113.70L301.13 114.07L300.50 114.44L299.88 114.81L299.26 115.17L298.63 115.54L298.01 115.90L297.39 116.25L296.76 116.61L296.14 116.96L295.52 117.30L294.90 117.65L294.27 117.99L293.65 118.34L293.02 118.68L292.40 119.03L291.77 119.38L291.15 119.73L290.52 120.09L289.89 120.45L289.26 120.82L288.62 121.18L287.99 121.55L287.36 121.91L286.72 122.28L286.08 122.65L285.45 123.03L284.81 123.41L284.17 123.80L283.54 124.19L282.90 124.58L282.27 124.98L281.69 125.36L281.11 125.74L280.53 126.12L279.95 126.51L279.38 126.90L278.80 127.29L278.22 127.69L277.65 128.08L277.07 128.49L276.49 128.89L275.92 129.30L275.34 129.71L274.76 130.12L274.18 130.53L273.60 130.93L273.02 131.34L272.45 131.74L271.87 132.15L271.29 132.57L270.71 132.99L270.12 133.42L269.54 133.86L268.95 134.32L268.35 134.79L267.75 135.27L267.14 135.77L266.61 136.22L266.06 136.70L265.50 137.20L264.94 137.71L264.37 138.23L263.80 138.76L263.22 139.30L262.65 139.83L262.09 140.35L261.53 140.87L260.98 141.37L260.45 141.86L259.93 142.33L259.42 142.77L258.94 143.18L258.31 143.72L257.72 144.22L257.15 144.70L256.60 145.15L256.07 145.58L255.56 145.99L255.04 146.39L254.53 146.78L254.02 147.16L253.50 147.54L252.96 147.92L252.34 148.35L251.71 148.78L251.07 149.21L250.42 149.63L249.78 150.03L249.15 150.42L248.54 150.77L247.96 151.09L247.42 151.37L246.93 151.60L246.20 151.90L245.60 152.08L245.07 152.19L244.58 152.24L244.07 152.27L243.51 152.28L242.93 152.26L242.37 152.20L241.80 152.10L241.21 151.96L240.59 151.79L239.93 151.56L239.35 151.35L238.79 151.15L238.24 150.95L237.67 150.71L237.05 150.40L236.35 149.99L235.55 149.44L235.11 149.11L234.63 148.73L234.13 148.31L233.61 147.86L233.07 147.38L232.52 146.87L231.95 146.35L231.37 145.81L230.80 145.26L230.22 144.70L229.64 144.15L229.07 143.60L228.51 143.06L227.96 142.53L227.46 142.04L226.96 141.55L226.46 141.05L225.96 140.55L225.47 140.04L224.97 139.54L224.47 139.02L223.97 138.51L223.48 138.00L222.98 137.49L222.48 136.97L221.98 136.46L221.47 135.95L220.97 135.44L220.46 134.94L219.96 134.43L219.45 133.93L218.95 133.42L218.44 132.91L217.93 132.40L217.42 131.90L216.92 131.39L216.41 130.88L215.90 130.38L215.39 129.88L214.88 129.38L214.38 128.88L213.87 128.39L213.37 127.90L212.86 127.42L212.33 126.91L211.81 126.41L211.29 125.92L210.78 125.42L210.27 124.93L209.76 124.44L209.25 123.96L208.73 123.47L208.20 122.98L207.67 122.50L207.12 122.01L206.55 121.52L205.96 121.04L205.35 120.55L204.81 120.13L204.27 119.71L203.73 119.30L203.18 118.90L202.62 118.50L202.06 118.10L201.49 117.70L200.90 117.30L200.31 116.89L199.69 116.48L199.05 116.07L198.40 115.65L197.72 115.22L197.01 114.78L196.28 114.33L195.52 113.87L194.97 113.54L194.41 113.20L193.82 112.85L193.22 112.48L192.61 112.12L191.98 111.74L191.34 111.36L190.69 110.97L190.03 110.58L189.36 110.19L188.69 109.80L188.01 109.41L187.32 109.02L186.63 108.64L185.94 108.25L185.25 107.88L184.56 107.51L183.86 107.15L183.18 106.79L182.49 106.45L181.81 106.12L181.14 105.80L180.47 105.49L179.77 105.19L179.08 104.89L178.38 104.61L177.69 104.33L176.99 104.07L176.30 103.81L175.60 103.56L174.90 103.32L174.20 103.08L173.51 102.85L172.81 102.63L172.11 102.41L171.42 102.19L170.72 101.98L170.03 101.77L169.33 101.57L168.64 101.37L167.95 101.17L167.26 100.97L166.57 100.77L165.88 100.58L165.19 100.38L164.48 100.17L163.77 99.97L163.07 99.78L162.37 99.59L161.68 99.40L161.00 99.21L160.31 99.03L159.62 98.86L158.94 98.68L158.25 98.51L157.56 98.34L156.86 98.17L156.16 98.01L155.45 97.84L154.73 97.68L154.00 97.52L153.25 97.35L152.50 97.19L151.73 97.03L150.94 96.87L150.14 96.70L149.48 96.57L148.81 96.44L148.14 96.30L147.45 96.17L146.76 96.04L146.06 95.90L145.36 95.77L144.64 95.64L143.93 95.51L143.20 95.37L142.47 95.24L141.74 95.11L141.00 94.99L140.25 94.86L139.50 94.73L138.75 94.61L137.99 94.49L137.24 94.37L136.47 94.25L135.71 94.13L134.94 94.02L134.17 93.91L133.41 93.80L132.63 93.69L131.86 93.59L131.09 93.49L130.39 93.40L129.68 93.31L128.96 93.23L128.24 93.15L127.50 93.07L126.76 92.99L126.01 92.91L125.26 92.84L124.50 92.76L123.74 92.69L122.98 92.62L122.22 92.55L121.45 92.48L120.69 92.42L119.93 92.35L119.17 92.29L118.42 92.23L117.67 92.17L116.93 92.11L116.20 92.05L115.47 92.00L114.75 91.94L114.04 91.89L113.35 91.83L112.66 91.78L111.99 91.73L111.33 91.68L110.68 91.63L110.06 91.58L109.21 91.51L108.39 91.45L107.59 91.40L106.81 91.34L106.05 91.29L105.31 91.24L104.59 91.20L103.87 91.15L103.17 91.11L102.48 91.07L101.80 91.03L101.12 91.00L100.45 90.96L99.79 90.93L99.12 90.89L98.45 90.86L97.78 90.82L97.11 90.79L96.43 90.75L95.74 90.71L95.04 90.68L94.29 90.64L93.53 90.59L92.75 90.54L91.96 90.50L91.16 90.45L90.36 90.40L89.56 90.35L88.76 90.30L87.96 90.25L87.17 90.20L86.40 90.16L85.63 90.12L84.89 90.08L84.16 90.05L83.46 90.02L82.78 90.00L82.13 89.98L81.51 89.97L80.93 89.97L80.38 89.98L79.28 90.03L78.30 90.13L77.44 90.27L76.70 90.44L76.05 90.62L75.50 90.79L75.04 90.93L74.66 91.04L74.34 91.11Z" fill="#ffac54" stroke="none"/><path d="M74.74 93.68L75.12 93.53L75.54 93.30L76.00 93.07L76.51 92.84L77.10 92.61L77.77 92.40L78.53 92.22L79.41 92.09L80.44 92.02L80.94 92.02L81.49 92.02L82.09 92.04L82.72 92.07L83.38 92.10L84.08 92.15L84.79 92.20L85.53 92.26L86.29 92.33L87.06 92.40L87.85 92.48L88.64 92.56L89.44 92.64L90.24 92.72L91.05 92.80L91.84 92.88L92.64 92.96L93.42 93.03L94.19 93.11L94.94 93.17L95.64 93.23L96.33 93.28L97.01 93.34L97.68 93.40L98.35 93.45L99.02 93.51L99.69 93.56L100.36 93.62L101.03 93.67L101.70 93.73L102.38 93.79L103.07 93.85L103.77 93.91L104.48 93.97L105.20 94.04L105.94 94.10L106.70 94.17L107.47 94.24L108.27 94.31L109.09 94.39L109.93 94.47L110.56 94.53L111.21 94.59L111.87 94.65L112.54 94.71L113.23 94.77L113.92 94.83L114.63 94.90L115.35 94.96L116.08 95.03L116.81 95.09L117.55 95.16L118.30 95.23L119.05 95.29L119.80 95.36L120.56 95.44L121.32 95.51L122.08 95.58L122.84 95.66L123.60 95.73L124.36 95.81L125.11 95.89L125.86 95.97L126.60 96.05L127.34 96.13L128.07 96.21L128.80 96.30L129.51 96.38L130.21 96.47L130.91 96.56L131.67 96.67L132.44 96.77L133.21 96.88L133.97 96.99L134.73 97.10L135.50 97.21L136.26 97.32L137.01 97.44L137.77 97.56L138.52 97.68L139.27 97.80L140.01 97.92L140.76 98.05L141.49 98.17L142.22 98.30L142.95 98.43L143.67 98.55L144.39 98.68L145.09 98.81L145.80 98.95L146.49 99.08L147.18 99.21L147.86 99.34L148.54 99.48L149.20 99.61L149.86 99.75L150.66 99.91L151.44 100.08L152.20 100.24L152.95 100.40L153.69 100.56L154.41 100.73L155.13 100.89L155.83 101.06L156.53 101.22L157.22 101.39L157.91 101.56L158.59 101.74L159.27 101.92L159.95 102.10L160.63 102.29L161.31 102.48L161.99 102.68L162.68 102.88L163.38 103.09L164.08 103.31L164.79 103.54L165.47 103.76L166.16 103.98L166.85 104.21L167.54 104.43L168.22 104.66L168.91 104.90L169.60 105.14L170.29 105.38L170.98 105.62L171.67 105.87L172.36 106.13L173.05 106.39L173.74 106.65L174.43 106.93L175.11 107.21L175.80 107.49L176.49 107.78L177.17 108.09L177.86 108.40L178.54 108.71L179.23 109.04L179.91 109.38L180.54 109.70L181.17 110.03L181.81 110.37L182.46 110.73L183.11 111.10L183.77 111.48L184.43 111.86L185.09 112.25L185.74 112.65L186.40 113.06L187.06 113.47L187.71 113.88L188.36 114.29L189.00 114.71L189.63 115.12L190.26 115.54L190.88 115.95L191.48 116.36L192.08 116.76L192.66 117.16L193.24 117.55L193.79 117.94L194.33 118.32L194.86 118.68L195.57 119.19L196.26 119.68L196.92 120.17L197.56 120.66L198.18 121.13L198.78 121.61L199.36 122.08L199.93 122.54L200.49 123.00L201.03 123.47L201.56 123.93L202.08 124.38L202.60 124.84L203.11 125.30L203.62 125.76L204.13 126.23L204.64 126.69L205.20 127.21L205.75 127.72L206.28 128.23L206.80 128.74L207.30 129.25L207.79 129.76L208.27 130.26L208.74 130.77L209.21 131.28L209.68 131.80L210.16 132.32L210.63 132.84L211.12 133.37L211.60 133.91L212.10 134.46L212.57 134.98L213.04 135.51L213.51 136.05L213.98 136.59L214.46 137.14L214.93 137.69L215.41 138.24L215.88 138.80L216.36 139.36L216.83 139.92L217.31 140.48L217.78 141.04L218.26 141.60L218.74 142.16L219.21 142.71L219.68 143.26L220.16 143.81L220.64 144.39L221.13 144.97L221.62 145.57L222.12 146.17L222.62 146.77L223.12 147.37L223.62 147.96L224.11 148.54L224.59 149.11L225.07 149.66L225.53 150.18L225.98 150.68L226.42 151.14L226.84 151.57L227.24 151.98L227.95 152.67L228.61 153.26L229.21 153.75L229.78 154.15L230.31 154.49L230.83 154.77L231.32 155.03L231.81 155.28L232.56 155.66L233.27 155.98L233.97 156.22L234.70 156.37L235.48 156.42L236.19 156.41L236.91 156.35L237.67 156.22L238.44 156.03L239.22 155.75L239.98 155.39L240.55 155.06L241.10 154.70L241.64 154.31L242.19 153.88L242.75 153.41L243.32 152.91L243.92 152.38L244.56 151.80L245.00 151.37L245.46 150.93L245.92 150.46L246.40 149.98L246.89 149.49L247.38 148.97L247.89 148.45L248.41 147.91L248.93 147.36L249.46 146.80L250.01 146.23L250.57 145.66L251.02 145.20L251.49 144.73L251.96 144.25L252.43 143.77L252.91 143.28L253.39 142.78L253.89 142.27L254.39 141.76L254.90 141.25L255.41 140.73L255.94 140.20L256.48 139.68L257.03 139.15L257.59 138.62L258.16 138.09L258.65 137.63L259.16 137.17L259.68 136.69L260.22 136.21L260.76 135.71L261.32 135.22L261.88 134.72L262.44 134.21L263.01 133.71L263.58 133.21L264.14 132.72L264.70 132.23L265.26 131.75L265.80 131.28L266.34 130.82L266.86 130.37L267.37 129.94L267.86 129.52L268.51 128.97L269.14 128.45L269.76 127.94L270.35 127.45L270.94 126.98L271.51 126.52L272.07 126.08L272.63 125.64L273.19 125.20L273.75 124.77L274.31 124.33L274.87 123.90L275.45 123.46L276.03 123.01L276.61 122.58L277.18 122.14L277.76 121.71L278.33 121.29L278.91 120.86L279.48 120.44L280.06 120.03L280.63 119.61L281.21 119.20L281.78 118.80L282.36 118.39L282.94 117.99L283.52 117.59L284.10 117.20L284.68 116.81L285.27 116.43L285.85 116.05L286.44 115.67L287.02 115.29L287.61 114.91L288.20 114.53L288.78 114.15L289.37 113.77L289.95 113.39L290.53 113.00L291.12 112.62L291.70 112.23L292.27 111.83L292.85 111.44L293.43 111.05L294.00 110.66L294.58 110.27L295.16 109.89L295.73 109.50L296.30 109.12L296.88 108.75L297.45 108.38L298.03 108.02L298.66 107.63L299.31 107.23L299.96 106.84L300.63 106.44L301.29 106.05L301.95 105.66L302.60 105.28L303.23 104.91L303.85 104.54L304.44 104.19L305.00 103.85L305.52 103.52L306.21 103.10L306.80 102.73L307.31 102.40L307.79 102.09L308.27 101.77L308.80 101.41L309.41 100.99L310.14 100.49L310.62 100.16L311.13 99.81L311.67 99.43L312.24 99.03L312.83 98.61L313.44 98.18L314.06 97.75L314.69 97.30L315.32 96.85L315.95 96.40L316.57 95.96L317.18 95.52L317.77 95.09L318.34 94.68L318.94 94.24L319.54 93.81L320.12 93.39L320.70 92.96L321.28 92.54L321.85 92.12L322.43 91.69L323.00 91.27L323.56 90.84L324.13 90.40L324.70 89.96L325.28 89.50L325.85 89.04L326.39 88.61L326.93 88.17L327.46 87.72L328.00 87.27L328.54 86.82L329.07 86.36L329.61 85.90L330.14 85.43L330.68 84.97L331.22 84.50L331.75 84.03L332.29 83.56L332.82 83.08L333.36 82.61L333.90 82.13L334.43 81.65L334.97 81.17L335.50 80.68L336.04 80.19L336.58 79.70L337.11 79.21L337.65 78.72L338.18 78.22L338.72 77.72L339.25 77.21L339.79 76.70L340.33 76.19L340.86 75.68L341.36 75.19L341.86 74.71L342.36 74.22L342.86 73.73L343.36 73.24L343.86 72.74L344.36 72.24L344.86 71.74L345.37 71.24L345.87 70.74L346.37 70.23L346.87 69.72L347.37 69.20L347.88 68.68L348.38 68.16L348.88 67.64L349.38 67.11L349.88 66.58L350.39 66.05L350.89 65.51L351.39 64.97L351.89 64.43L352.40 63.88L352.90 63.33L353.40 62.78L353.90 62.22L354.40 61.66L354.91 61.10L355.41 60.53L355.91 59.96L356.39 59.42L356.86 58.87L357.34 58.31L357.81 57.75L358.29 57.18L358.76 56.61L359.24 56.04L359.71 55.47L360.19 54.89L360.66 54.32L361.13 53.75L361.59 53.18L362.06 52.62L362.52 52.06L362.97 51.50L363.43 50.96L363.91 50.38L364.39 49.79L364.87 49.21L365.35 48.63L365.82 48.05L366.29 47.48L366.76 46.90L367.23 46.33L367.69 45.77L368.15 45.22L368.61 44.67L369.06 44.13L369.51 43.59L369.96 43.07L370.40 42.56L370.93 41.97L371.48 41.36L372.05 40.74L372.63 40.13L373.21 39.52L373.78 38.93L374.34 38.35L374.87 37.81L375.36 37.30L375.82 36.83L376.23 36.42L376.59 36.06L376.88 35.76L376.12 35.04L375.84 35.33L375.49 35.69L375.09 36.11L374.63 36.58L374.13 37.08L373.59 37.63L373.03 38.20L372.46 38.80L371.87 39.40L371.28 40.02L370.70 40.64L370.14 41.25L369.60 41.84L369.14 42.35L368.68 42.88L368.22 43.41L367.76 43.95L367.29 44.50L366.83 45.06L366.36 45.62L365.90 46.19L365.43 46.76L364.95 47.34L364.48 47.92L364.01 48.50L363.53 49.08L363.05 49.66L362.57 50.24L362.12 50.79L361.66 51.35L361.19 51.91L360.73 52.47L360.26 53.04L359.79 53.61L359.32 54.18L358.85 54.76L358.38 55.33L357.91 55.90L357.43 56.47L356.96 57.04L356.49 57.60L356.02 58.15L355.55 58.70L355.09 59.24L354.59 59.81L354.09 60.38L353.60 60.94L353.10 61.50L352.60 62.06L352.10 62.61L351.60 63.16L351.11 63.71L350.61 64.25L350.11 64.79L349.61 65.32L349.12 65.86L348.62 66.39L348.12 66.91L347.62 67.44L347.12 67.96L346.63 68.48L346.13 68.99L345.63 69.50L345.13 70.01L344.63 70.52L344.14 71.02L343.64 71.52L343.14 72.01L342.64 72.50L342.14 72.99L341.64 73.48L341.14 73.96L340.64 74.44L340.14 74.92L339.60 75.43L339.07 75.94L338.53 76.44L338.00 76.94L337.46 77.44L336.92 77.93L336.39 78.43L335.85 78.91L335.32 79.40L334.78 79.88L334.25 80.36L333.71 80.84L333.18 81.32L332.64 81.79L332.10 82.27L331.57 82.74L331.03 83.21L330.50 83.68L329.96 84.14L329.43 84.60L328.89 85.06L328.36 85.52L327.82 85.97L327.29 86.42L326.75 86.86L326.22 87.30L325.68 87.73L325.15 88.16L324.57 88.61L324.00 89.05L323.43 89.49L322.87 89.91L322.30 90.34L321.73 90.76L321.16 91.18L320.59 91.60L320.01 92.01L319.43 92.44L318.85 92.86L318.26 93.29L317.66 93.72L317.08 94.14L316.49 94.56L315.88 95.00L315.26 95.44L314.63 95.89L314.00 96.34L313.38 96.78L312.76 97.22L312.15 97.64L311.56 98.05L310.99 98.45L310.45 98.83L309.94 99.18L309.46 99.51L308.73 100.00L308.13 100.41L307.60 100.76L307.12 101.07L306.65 101.37L306.14 101.69L305.56 102.05L304.88 102.48L304.35 102.79L303.80 103.12L303.21 103.47L302.60 103.83L301.96 104.20L301.31 104.59L300.65 104.98L299.99 105.37L299.32 105.77L298.66 106.18L298.01 106.58L297.37 106.98L296.79 107.36L296.22 107.73L295.64 108.11L295.06 108.50L294.48 108.89L293.91 109.28L293.33 109.67L292.76 110.06L292.18 110.45L291.60 110.84L291.02 111.23L290.45 111.61L289.87 112.00L289.29 112.38L288.70 112.76L288.12 113.13L287.54 113.51L286.95 113.89L286.36 114.27L285.78 114.65L285.19 115.03L284.60 115.42L284.01 115.81L283.43 116.20L282.84 116.61L282.26 117.01L281.68 117.42L281.10 117.83L280.52 118.24L279.94 118.66L279.37 119.08L278.79 119.50L278.22 119.92L277.64 120.35L277.06 120.78L276.49 121.22L275.91 121.66L275.33 122.10L274.75 122.54L274.17 122.99L273.61 123.43L273.04 123.86L272.49 124.30L271.93 124.74L271.37 125.19L270.80 125.64L270.23 126.11L269.64 126.58L269.04 127.08L268.43 127.59L267.80 128.12L267.14 128.68L266.65 129.10L266.14 129.53L265.62 129.98L265.09 130.45L264.54 130.92L263.99 131.41L263.42 131.90L262.86 132.40L262.29 132.90L261.72 133.40L261.16 133.91L260.60 134.41L260.04 134.91L259.49 135.41L258.96 135.90L258.44 136.38L257.93 136.85L257.44 137.31L256.87 137.86L256.31 138.40L255.76 138.94L255.22 139.47L254.69 140.00L254.17 140.52L253.65 141.04L253.15 141.55L252.65 142.05L252.17 142.55L251.69 143.04L251.21 143.53L250.75 144.01L250.29 144.48L249.83 144.94L249.27 145.51L248.72 146.07L248.17 146.63L247.65 147.18L247.13 147.72L246.63 148.25L246.14 148.76L245.66 149.26L245.19 149.74L244.73 150.18L244.28 150.61L243.84 151.00L243.20 151.57L242.60 152.08L242.03 152.55L241.49 152.97L240.96 153.35L240.44 153.68L239.93 153.97L239.42 154.21L238.73 154.48L238.06 154.68L237.39 154.83L236.74 154.92L236.11 154.97L235.52 154.98L234.87 154.94L234.30 154.85L233.73 154.70L233.11 154.47L232.39 154.12L231.90 153.87L231.42 153.63L230.93 153.39L230.43 153.11L229.90 152.78L229.32 152.38L228.67 151.87L227.96 151.22L227.59 150.85L227.19 150.42L226.78 149.96L226.35 149.46L225.90 148.94L225.43 148.39L224.95 147.83L224.47 147.25L223.98 146.66L223.48 146.06L222.98 145.46L222.48 144.86L221.98 144.26L221.49 143.67L221.00 143.10L220.52 142.54L220.05 141.99L219.57 141.44L219.10 140.88L218.63 140.33L218.15 139.77L217.67 139.21L217.20 138.65L216.72 138.09L216.24 137.53L215.76 136.97L215.29 136.42L214.81 135.87L214.33 135.33L213.85 134.79L213.37 134.26L212.90 133.74L212.40 133.19L211.91 132.65L211.43 132.12L210.95 131.60L210.47 131.08L209.99 130.56L209.51 130.05L209.03 129.54L208.54 129.03L208.04 128.52L207.53 128.01L207.01 127.49L206.48 126.97L205.93 126.44L205.36 125.91L204.85 125.44L204.35 124.97L203.84 124.51L203.32 124.04L202.80 123.57L202.28 123.11L201.75 122.64L201.20 122.16L200.65 121.69L200.08 121.21L199.49 120.73L198.89 120.24L198.26 119.75L197.62 119.25L196.95 118.75L196.26 118.23L195.54 117.72L195.02 117.34L194.47 116.96L193.91 116.57L193.34 116.18L192.76 115.77L192.16 115.36L191.55 114.95L190.93 114.53L190.30 114.11L189.66 113.69L189.02 113.27L188.37 112.85L187.71 112.43L187.05 112.01L186.39 111.60L185.73 111.19L185.07 110.79L184.40 110.40L183.74 110.01L183.08 109.63L182.43 109.26L181.78 108.90L181.13 108.56L180.49 108.22L179.80 107.87L179.11 107.53L178.41 107.20L177.72 106.88L177.02 106.57L176.33 106.26L175.63 105.97L174.93 105.68L174.23 105.40L173.54 105.12L172.84 104.86L172.14 104.60L171.45 104.34L170.75 104.09L170.05 103.84L169.36 103.60L168.67 103.36L167.97 103.13L167.28 102.90L166.59 102.67L165.90 102.45L165.21 102.22L164.49 101.99L163.78 101.77L163.08 101.55L162.39 101.34L161.69 101.14L161.01 100.94L160.32 100.75L159.63 100.56L158.94 100.38L158.26 100.20L157.56 100.03L156.86 99.85L156.16 99.68L155.45 99.51L154.73 99.35L154.00 99.18L153.26 99.02L152.50 98.85L151.73 98.69L150.95 98.52L150.14 98.35L149.48 98.22L148.81 98.08L148.14 97.95L147.45 97.81L146.76 97.68L146.06 97.55L145.36 97.41L144.64 97.28L143.92 97.15L143.20 97.02L142.47 96.89L141.73 96.76L140.99 96.64L140.25 96.51L139.50 96.39L138.75 96.27L137.99 96.14L137.23 96.02L136.47 95.91L135.71 95.79L134.94 95.68L134.18 95.57L133.41 95.46L132.64 95.35L131.87 95.24L131.09 95.14L130.40 95.05L129.69 94.96L128.97 94.87L128.24 94.78L127.50 94.70L126.76 94.61L126.01 94.53L125.26 94.45L124.50 94.37L123.75 94.30L122.98 94.22L122.22 94.14L121.46 94.07L120.70 94.00L119.94 93.93L119.18 93.86L118.43 93.79L117.68 93.72L116.94 93.65L116.21 93.59L115.48 93.52L114.76 93.46L114.05 93.39L113.36 93.33L112.67 93.27L112.00 93.21L111.34 93.15L110.70 93.09L110.07 93.03L109.22 92.95L108.40 92.88L107.60 92.80L106.83 92.73L106.07 92.66L105.33 92.60L104.60 92.53L103.89 92.47L103.19 92.41L102.50 92.35L101.82 92.29L101.15 92.23L100.48 92.18L99.81 92.12L99.14 92.07L98.47 92.01L97.80 91.96L97.13 91.90L96.45 91.84L95.76 91.79L95.06 91.73L94.31 91.67L93.55 91.60L92.77 91.52L91.99 91.45L91.19 91.37L90.39 91.29L89.59 91.20L88.79 91.12L87.99 91.04L87.20 90.97L86.42 90.89L85.66 90.82L84.91 90.76L84.18 90.71L83.47 90.66L82.79 90.62L82.14 90.59L81.52 90.57L80.93 90.57L80.36 90.58L79.25 90.66L78.25 90.83L77.38 91.07L76.62 91.34L75.97 91.63L75.42 91.91L74.96 92.14L74.58 92.31L74.26 92.42Z" fill="#c6bc16" stroke="none"/></g><path d="M97.7 153.86H137.3" stroke="#4a0ad0" stroke-width="1.15" fill="none"/><path d="M97.7 167.66H137.3" stroke="#8e1840" stroke-width="1.15" fill="none"/><path d="M97.7 181.8H137.3" stroke="#ff3214" stroke-width="1.15" fill="none"/><path d="M97.7 195.6H137.3" stroke="#ffac54" stroke-width="1.15" fill="none"/><path d="M97.7 209.7H137.3" stroke="#c6bc16" stroke-width="1.15" fill="none"/></svg>
<div class="t r" style="right:327.9px;top:44px"><svg style="display:inline-block;width:0.556em;height:0.709em;overflow:visible;vertical-align:baseline" viewBox="0 0 556 709"><path d="M259 709V204H102V141C190 137 262 109 290 0H347V709Z" fill="#000" stroke="#000" stroke-width="18"/></svg>0.0</div>
<div class="t r" style="right:328.3px;top:136.2px"><svg style="display:inline-block;width:0.556em;height:0.709em;overflow:visible;vertical-align:baseline" viewBox="0 0 556 709"><path d="M259 709V204H102V141C190 137 262 109 290 0H347V709Z" fill="#000" stroke="#000" stroke-width="18"/></svg>.0</div>
<div class="t r" style="right:328.3px;top:225.6px">0.<svg style="display:inline-block;width:0.556em;height:0.709em;overflow:visible;vertical-align:baseline" viewBox="0 0 556 709"><path d="M259 709V204H102V141C190 137 262 109 290 0H347V709Z" fill="#000" stroke="#000" stroke-width="18"/></svg></div>
<div class="t" style="left:74.4px;top:242.9px;transform:translateX(-50%)">0.<svg style="display:inline-block;width:0.556em;height:0.709em;overflow:visible;vertical-align:baseline" viewBox="0 0 556 709"><path d="M259 709V204H102V141C190 137 262 109 290 0H347V709Z" fill="#000" stroke="#000" stroke-width="18"/></svg></div>
<div class="t" style="left:206.2px;top:242.9px;transform:translateX(-50%)"><svg style="display:inline-block;width:0.556em;height:0.709em;overflow:visible;vertical-align:baseline" viewBox="0 0 556 709"><path d="M259 709V204H102V141C190 137 262 109 290 0H347V709Z" fill="#000" stroke="#000" stroke-width="18"/></svg>.0</div>
<div class="t" style="left:337.4px;top:242.9px;transform:translateX(-50%)"><svg style="display:inline-block;width:0.556em;height:0.709em;overflow:visible;vertical-align:baseline" viewBox="0 0 556 709"><path d="M259 709V204H102V141C190 137 262 109 290 0H347V709Z" fill="#000" stroke="#000" stroke-width="18"/></svg>0.0</div>
<div class="t" style="left:195px;top:259px">E<span style="font-size:8.9px;position:relative;top:6.3px">obs</span> (keV)</div>
<div class="t" style="left:27.7px;top:130.95px;letter-spacing:0.17px;transform:translate(-50%,-50%) rotate(-90deg);transform-origin:center">polarization degree<span style="letter-spacing:-0.25px"> (%)</span></div>
<div class="t r" style="right:218.4px;top:143.6px">a/M=0</div>
<div class="t r" style="right:218.4px;top:157.5px">0.5</div>
<div class="t r" style="right:218.4px;top:171.6px">0.9</div>
<div class="t r" style="right:218.4px;top:185.6px">0.99</div>
<div class="t r" style="right:218.4px;top:199.6px">0.998</div>
</div></body></html>
